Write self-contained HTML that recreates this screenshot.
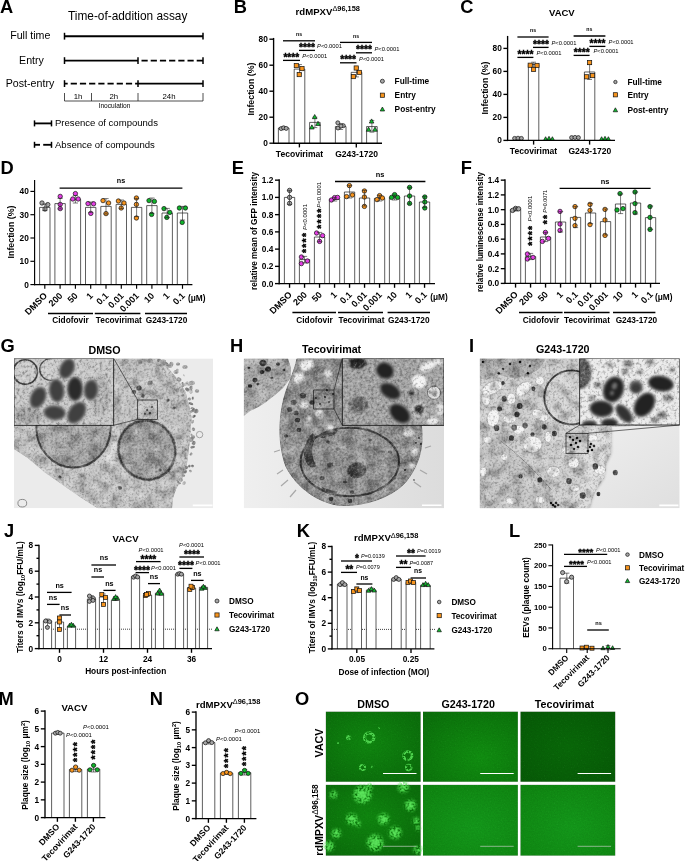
<!DOCTYPE html>
<html><head><meta charset="utf-8"><title>Figure</title>
<style>html,body{margin:0;padding:0;background:#fff}svg{display:block}text{font-family:"Liberation Sans",sans-serif}</style>
</head><body>
<svg width="685" height="861" viewBox="0 0 685 861">
<text transform="translate(0.1 12.85) scale(1 1)" font-size="18.3" font-weight="bold">A</text>
<text x="68" y="20" font-size="11.85">Time-of-addition assay</text>
<text x="30.3" y="39.2" font-size="10.65" text-anchor="middle">Full time</text>
<text x="31.5" y="64" font-size="10.65" text-anchor="middle">Entry</text>
<text x="30" y="87.2" font-size="10.65" text-anchor="middle">Post-entry</text>
<line x1="64.5" y1="36.2" x2="203" y2="36.2" stroke="#000" stroke-width="1.85"/>
<line x1="64.5" y1="32.8" x2="64.5" y2="39.6" stroke="#000" stroke-width="1.5"/>
<line x1="203" y1="32.8" x2="203" y2="39.6" stroke="#000" stroke-width="1.5"/>
<line x1="64.5" y1="60.6" x2="138" y2="60.6" stroke="#000" stroke-width="1.85"/>
<line x1="141.5" y1="60.6" x2="203" y2="60.6" stroke="#000" stroke-width="1.85" stroke-dasharray="6.2 3"/>
<line x1="64.5" y1="57.2" x2="64.5" y2="64" stroke="#000" stroke-width="1.5"/>
<line x1="138" y1="57.2" x2="138" y2="64" stroke="#000" stroke-width="1.5"/>
<line x1="203" y1="57.2" x2="203" y2="64" stroke="#000" stroke-width="1.5"/>
<line x1="64.5" y1="83.6" x2="138" y2="83.6" stroke="#000" stroke-width="1.85" stroke-dasharray="3.2 3 6.2 3 6.2 3 6.2 3 6.2 3 6.2 3 6.2 3 6.2 3 6.2 3"/>
<line x1="138" y1="83.6" x2="203" y2="83.6" stroke="#000" stroke-width="1.85"/>
<line x1="64.5" y1="80.2" x2="64.5" y2="87" stroke="#000" stroke-width="1.5"/>
<line x1="138" y1="80.2" x2="138" y2="87" stroke="#000" stroke-width="1.5"/>
<line x1="203" y1="80.2" x2="203" y2="87" stroke="#000" stroke-width="1.5"/>
<path d="M64.5 93V101H203V93M91.5 93V101M138 93V101" fill="none" stroke="#222" stroke-width="0.8"/>
<text x="78" y="98.7" font-size="7.8" text-anchor="middle">1h</text>
<text x="113.8" y="98.7" font-size="7.8" text-anchor="middle">2h</text>
<text x="169" y="98.7" font-size="7.8" text-anchor="middle">24h</text>
<text x="114.5" y="107.7" font-size="6.6" text-anchor="middle">Inoculation</text>
<line x1="34.5" y1="123.4" x2="51.5" y2="123.4" stroke="#000" stroke-width="1.85"/>
<line x1="34.5" y1="120.4" x2="34.5" y2="126.4" stroke="#000" stroke-width="1.5"/>
<line x1="51.5" y1="120.4" x2="51.5" y2="126.4" stroke="#000" stroke-width="1.5"/>
<text x="55" y="126.3" font-size="9.55">Presence of compounds</text>
<line x1="34.5" y1="144.8" x2="40" y2="144.8" stroke="#000" stroke-width="1.85"/>
<line x1="43.2" y1="144.8" x2="51.5" y2="144.8" stroke="#000" stroke-width="1.85"/>
<line x1="34.5" y1="141.8" x2="34.5" y2="147.8" stroke="#000" stroke-width="1.5"/>
<line x1="51.5" y1="141.8" x2="51.5" y2="147.8" stroke="#000" stroke-width="1.5"/>
<text x="55" y="147.6" font-size="9.55">Absence of compounds</text>
<text transform="translate(233.7 12.75) scale(1 1)" font-size="18.3" font-weight="bold">B</text>
<text x="295.6" y="15.2" font-size="9.6" font-weight="bold">rdMPXV<tspan font-size="7.4" dy="-3.9"><tspan font-weight="normal">Δ</tspan>96,158</tspan></text>
<path d="M278.4 143.2V127.99H289V143.2" fill="#fff" stroke="#1a1a1a" stroke-width="0.7"/>
<path d="M294.2 143.2V69.1H304.8V143.2" fill="#fff" stroke="#1a1a1a" stroke-width="0.7"/>
<path d="M309.6 143.2V122.4H320.2V143.2" fill="#fff" stroke="#1a1a1a" stroke-width="0.7"/>
<path d="M335.4 143.2V126.56H346V143.2" fill="#fff" stroke="#1a1a1a" stroke-width="0.7"/>
<path d="M351.2 143.2V72.35H361.8V143.2" fill="#fff" stroke="#1a1a1a" stroke-width="0.7"/>
<path d="M366.6 143.2V126.56H377.2V143.2" fill="#fff" stroke="#1a1a1a" stroke-width="0.7"/>
<path d="M283.7 126.82V129.16M281.7 126.82H285.7M281.7 129.16H285.7" fill="none" stroke="#222" stroke-width="0.6"/>
<path d="M299.5 64.55V73.65M297.1 64.55H301.9M297.1 73.65H301.9" fill="none" stroke="#222" stroke-width="0.6"/>
<path d="M314.9 117.2V127.6M312.5 117.2H317.3M312.5 127.6H317.3" fill="none" stroke="#222" stroke-width="0.6"/>
<path d="M340.7 123.7V129.42M338.3 123.7H343.1M338.3 129.42H343.1" fill="none" stroke="#222" stroke-width="0.6"/>
<path d="M356.5 67.8V76.9M354.1 67.8H358.9M354.1 76.9H358.9" fill="none" stroke="#222" stroke-width="0.6"/>
<path d="M371.9 120.45V132.15M369.5 120.45H374.3M369.5 132.15H374.3" fill="none" stroke="#222" stroke-width="0.6"/>
<circle cx="281.2" cy="128.6" r="2" fill="#a6a6a6" stroke="#111" stroke-width="0.7"/>
<circle cx="283.6" cy="127.8" r="2" fill="#a6a6a6" stroke="#111" stroke-width="0.7"/>
<circle cx="286.2" cy="128.4" r="2" fill="#a6a6a6" stroke="#111" stroke-width="0.7"/>
<rect x="294.2" y="63.5" width="4.2" height="4.2" fill="#f7941d" stroke="#111" stroke-width="0.7"/>
<rect x="299.9" y="66.5" width="4.2" height="4.2" fill="#f7941d" stroke="#111" stroke-width="0.7"/>
<rect x="297.1" y="72.5" width="4.2" height="4.2" fill="#f7941d" stroke="#111" stroke-width="0.7"/>
<polygon points="314.7,114.52 312.4,118.66 317,118.66" fill="#10c030" stroke="#111" stroke-width="0.7"/>
<polygon points="311.9,124.82 309.6,128.96 314.2,128.96" fill="#10c030" stroke="#111" stroke-width="0.7"/>
<polygon points="318,121.32 315.7,125.46 320.3,125.46" fill="#10c030" stroke="#111" stroke-width="0.7"/>
<circle cx="337.8" cy="122.8" r="2" fill="#a6a6a6" stroke="#111" stroke-width="0.7"/>
<circle cx="343.3" cy="125.7" r="2" fill="#a6a6a6" stroke="#111" stroke-width="0.7"/>
<circle cx="338" cy="128" r="2" fill="#a6a6a6" stroke="#111" stroke-width="0.7"/>
<circle cx="341" cy="126" r="2" fill="#a6a6a6" stroke="#111" stroke-width="0.7"/>
<rect x="354.1" y="65.9" width="4.2" height="4.2" fill="#f7941d" stroke="#111" stroke-width="0.7"/>
<rect x="357.3" y="70.3" width="4.2" height="4.2" fill="#f7941d" stroke="#111" stroke-width="0.7"/>
<rect x="351.3" y="74.5" width="4.2" height="4.2" fill="#f7941d" stroke="#111" stroke-width="0.7"/>
<polygon points="371.6,118.92 369.3,123.06 373.9,123.06" fill="#10c030" stroke="#111" stroke-width="0.7"/>
<polygon points="368.6,127.12 366.3,131.26 370.9,131.26" fill="#10c030" stroke="#111" stroke-width="0.7"/>
<polygon points="375,127.12 372.7,131.26 377.3,131.26" fill="#10c030" stroke="#111" stroke-width="0.7"/>
<line x1="273.6" y1="37.93" x2="273.6" y2="143.88" stroke="#000" stroke-width="1.35"/>
<line x1="269.4" y1="143.2" x2="273.6" y2="143.2" stroke="#000" stroke-width="1.35"/>
<text x="267.8" y="146.19" font-size="8.3" text-anchor="end" font-weight="bold">0</text>
<line x1="269.4" y1="117.2" x2="273.6" y2="117.2" stroke="#000" stroke-width="1.35"/>
<text x="267.8" y="120.19" font-size="8.3" text-anchor="end" font-weight="bold">20</text>
<line x1="269.4" y1="91.2" x2="273.6" y2="91.2" stroke="#000" stroke-width="1.35"/>
<text x="267.8" y="94.19" font-size="8.3" text-anchor="end" font-weight="bold">40</text>
<line x1="269.4" y1="65.2" x2="273.6" y2="65.2" stroke="#000" stroke-width="1.35"/>
<text x="267.8" y="68.19" font-size="8.3" text-anchor="end" font-weight="bold">60</text>
<line x1="269.4" y1="39.2" x2="273.6" y2="39.2" stroke="#000" stroke-width="1.35"/>
<text x="267.8" y="42.19" font-size="8.3" text-anchor="end" font-weight="bold">80</text>
<line x1="273.1" y1="143.2" x2="382" y2="143.2" stroke="#000" stroke-width="1.35"/>
<line x1="299.4" y1="143.2" x2="299.4" y2="147.4" stroke="#000" stroke-width="1.35"/>
<line x1="356.3" y1="143.2" x2="356.3" y2="147.4" stroke="#000" stroke-width="1.35"/>
<text x="253.9" y="89" font-size="8.8" text-anchor="middle" transform="rotate(-90 253.9 89)" font-weight="bold">Infection (%)</text>
<text x="299.5" y="156.6" font-size="8.55" text-anchor="middle" font-weight="bold">Tecovirimat</text>
<text x="356.6" y="156.6" font-size="8.55" text-anchor="middle" font-weight="bold">G243-1720</text>
<text x="299" y="36.2" font-size="5.2" text-anchor="middle" font-weight="bold">ns</text>
<line x1="283" y1="40.8" x2="315" y2="40.8" stroke="#000" stroke-width="1.3"/>
<text x="299" y="51" font-size="10.2" font-weight="bold" stroke="#000" stroke-width="0.4">****</text>
<line x1="299" y1="50.4" x2="315" y2="50.4" stroke="#000" stroke-width="1.3"/>
<text x="317" y="48.2" font-size="5.8"><tspan font-style="italic">P</tspan>&lt;0.0001</text>
<text x="283.4" y="61" font-size="10.2" font-weight="bold" stroke="#000" stroke-width="0.4">****</text>
<line x1="283" y1="60.4" x2="300" y2="60.4" stroke="#000" stroke-width="1.3"/>
<text x="302.2" y="58.2" font-size="5.8"><tspan font-style="italic">P</tspan>&lt;0.0001</text>
<text x="356" y="37.8" font-size="5.2" text-anchor="middle" font-weight="bold">ns</text>
<line x1="340" y1="42.4" x2="372" y2="42.4" stroke="#000" stroke-width="1.3"/>
<text x="356" y="53.4" font-size="10.2" font-weight="bold" stroke="#000" stroke-width="0.4">****</text>
<line x1="356" y1="52.8" x2="372" y2="52.8" stroke="#000" stroke-width="1.3"/>
<text x="374.4" y="50.6" font-size="5.8"><tspan font-style="italic">P</tspan>&lt;0.0001</text>
<text x="340.2" y="63.4" font-size="10.2" font-weight="bold" stroke="#000" stroke-width="0.4">****</text>
<line x1="340" y1="62.8" x2="356.5" y2="62.8" stroke="#000" stroke-width="1.3"/>
<text x="359" y="60.6" font-size="5.8"><tspan font-style="italic">P</tspan>&lt;0.0001</text>
<circle cx="382.4" cy="81.2" r="2" fill="#a6a6a6" stroke="#111" stroke-width="0.7"/>
<text x="394.6" y="84.2" font-size="8.3" font-weight="bold">Full-time</text>
<rect x="380.3" y="93.1" width="4.2" height="4.2" fill="#f7941d" stroke="#111" stroke-width="0.7"/>
<text x="394.6" y="98.2" font-size="8.3" font-weight="bold">Entry</text>
<polygon points="382.4,107.02 380.2,110.98 384.6,110.98" fill="#10c030" stroke="#111" stroke-width="0.7"/>
<text x="394.6" y="112.2" font-size="8.3" font-weight="bold">Post-entry</text>
<text transform="translate(460.3 12.8) scale(1 1)" font-size="18.3" font-weight="bold">C</text>
<text x="549" y="16.4" font-size="9.5" font-weight="bold">VACV</text>
<path d="M528.4 140.4V64.5H538.8V140.4" fill="#fff" stroke="#1a1a1a" stroke-width="0.7"/>
<path d="M584.4 140.4V71.98H594.8V140.4" fill="#fff" stroke="#1a1a1a" stroke-width="0.7"/>
<path d="M533.6 62.2V67.38M531.2 62.2H536M531.2 67.38H536" fill="none" stroke="#222" stroke-width="0.6"/>
<path d="M589.6 64.5V79.45M587.2 64.5H592M587.2 79.45H592" fill="none" stroke="#222" stroke-width="0.6"/>
<circle cx="514.6" cy="138.4" r="2" fill="#a6a6a6" stroke="#111" stroke-width="0.7"/>
<circle cx="518" cy="138.2" r="2" fill="#a6a6a6" stroke="#111" stroke-width="0.7"/>
<circle cx="521.4" cy="138.4" r="2" fill="#a6a6a6" stroke="#111" stroke-width="0.7"/>
<rect x="528.1" y="63.1" width="4.2" height="4.2" fill="#f7941d" stroke="#111" stroke-width="0.7"/>
<rect x="534.9" y="63.3" width="4.2" height="4.2" fill="#f7941d" stroke="#111" stroke-width="0.7"/>
<rect x="531.5" y="67.3" width="4.2" height="4.2" fill="#f7941d" stroke="#111" stroke-width="0.7"/>
<polygon points="545.6,136.73 543.5,140.51 547.7,140.51" fill="#10c030" stroke="#111" stroke-width="0.7"/>
<polygon points="549,136.33 546.9,140.11 551.1,140.11" fill="#10c030" stroke="#111" stroke-width="0.7"/>
<polygon points="552.4,136.73 550.3,140.51 554.5,140.51" fill="#10c030" stroke="#111" stroke-width="0.7"/>
<circle cx="571.6" cy="137.6" r="2" fill="#a6a6a6" stroke="#111" stroke-width="0.7"/>
<circle cx="575" cy="137.4" r="2" fill="#a6a6a6" stroke="#111" stroke-width="0.7"/>
<circle cx="578.4" cy="137.6" r="2" fill="#a6a6a6" stroke="#111" stroke-width="0.7"/>
<rect x="587.5" y="60.5" width="4.2" height="4.2" fill="#f7941d" stroke="#111" stroke-width="0.7"/>
<rect x="584.5" y="74.7" width="4.2" height="4.2" fill="#f7941d" stroke="#111" stroke-width="0.7"/>
<rect x="590.5" y="73.5" width="4.2" height="4.2" fill="#f7941d" stroke="#111" stroke-width="0.7"/>
<polygon points="601.6,136.73 599.5,140.51 603.7,140.51" fill="#10c030" stroke="#111" stroke-width="0.7"/>
<polygon points="605,136.33 602.9,140.11 607.1,140.11" fill="#10c030" stroke="#111" stroke-width="0.7"/>
<polygon points="608.4,136.73 606.3,140.51 610.5,140.51" fill="#10c030" stroke="#111" stroke-width="0.7"/>
<line x1="507.6" y1="35.93" x2="507.6" y2="141.08" stroke="#000" stroke-width="1.35"/>
<line x1="503.4" y1="140.4" x2="507.6" y2="140.4" stroke="#000" stroke-width="1.35"/>
<text x="501.8" y="143.39" font-size="8.3" text-anchor="end" font-weight="bold">0</text>
<line x1="503.4" y1="117.4" x2="507.6" y2="117.4" stroke="#000" stroke-width="1.35"/>
<text x="501.8" y="120.39" font-size="8.3" text-anchor="end" font-weight="bold">20</text>
<line x1="503.4" y1="94.4" x2="507.6" y2="94.4" stroke="#000" stroke-width="1.35"/>
<text x="501.8" y="97.39" font-size="8.3" text-anchor="end" font-weight="bold">40</text>
<line x1="503.4" y1="71.4" x2="507.6" y2="71.4" stroke="#000" stroke-width="1.35"/>
<text x="501.8" y="74.39" font-size="8.3" text-anchor="end" font-weight="bold">60</text>
<line x1="503.4" y1="48.4" x2="507.6" y2="48.4" stroke="#000" stroke-width="1.35"/>
<text x="501.8" y="51.39" font-size="8.3" text-anchor="end" font-weight="bold">80</text>
<line x1="507.1" y1="140.4" x2="615" y2="140.4" stroke="#000" stroke-width="1.35"/>
<line x1="533.6" y1="140.4" x2="533.6" y2="144.6" stroke="#000" stroke-width="1.35"/>
<line x1="589.6" y1="140.4" x2="589.6" y2="144.6" stroke="#000" stroke-width="1.35"/>
<text x="487.8" y="88" font-size="8.8" text-anchor="middle" transform="rotate(-90 487.8 88)" font-weight="bold">Infection (%)</text>
<text x="533.5" y="154" font-size="8.55" text-anchor="middle" font-weight="bold">Tecovirimat</text>
<text x="589.8" y="154" font-size="8.55" text-anchor="middle" font-weight="bold">G243-1720</text>
<text x="533" y="32" font-size="5.2" text-anchor="middle" font-weight="bold">ns</text>
<line x1="517.4" y1="37" x2="548.6" y2="37" stroke="#000" stroke-width="1.3"/>
<text x="533" y="48" font-size="10.2" font-weight="bold" stroke="#000" stroke-width="0.4">****</text>
<line x1="533" y1="47.4" x2="548.6" y2="47.4" stroke="#000" stroke-width="1.3"/>
<text x="551.4" y="45.2" font-size="5.8"><tspan font-style="italic">P</tspan>&lt;0.0001</text>
<text x="517.6" y="58" font-size="10.2" font-weight="bold" stroke="#000" stroke-width="0.4">****</text>
<line x1="517.4" y1="57.4" x2="533.4" y2="57.4" stroke="#000" stroke-width="1.3"/>
<text x="536.4" y="55.2" font-size="5.8"><tspan font-style="italic">P</tspan>&lt;0.0001</text>
<text x="589.4" y="31" font-size="5.2" text-anchor="middle" font-weight="bold">ns</text>
<line x1="573.6" y1="36" x2="605.4" y2="36" stroke="#000" stroke-width="1.3"/>
<text x="589.6" y="47" font-size="10.2" font-weight="bold" stroke="#000" stroke-width="0.4">****</text>
<line x1="589.4" y1="46.4" x2="605.4" y2="46.4" stroke="#000" stroke-width="1.3"/>
<text x="608.6" y="44.2" font-size="5.8"><tspan font-style="italic">P</tspan>&lt;0.0001</text>
<text x="573.8" y="56" font-size="10.2" font-weight="bold" stroke="#000" stroke-width="0.4">****</text>
<line x1="573.6" y1="55.4" x2="589.6" y2="55.4" stroke="#000" stroke-width="1.3"/>
<text x="593.4" y="53.2" font-size="5.8"><tspan font-style="italic">P</tspan>&lt;0.0001</text>
<circle cx="615.4" cy="82" r="1.7" fill="#a6a6a6" stroke="#111" stroke-width="0.7"/>
<text x="627.4" y="85" font-size="8.3" font-weight="bold">Full-time</text>
<rect x="613.3" y="92.7" width="4.2" height="4.2" fill="#f7941d" stroke="#111" stroke-width="0.7"/>
<text x="627.4" y="97.8" font-size="8.3" font-weight="bold">Entry</text>
<polygon points="615.4,107.82 613.2,111.78 617.6,111.78" fill="#10c030" stroke="#111" stroke-width="0.7"/>
<text x="627.4" y="113" font-size="8.3" font-weight="bold">Post-entry</text>
<text transform="translate(0.55 173.8) scale(1 1)" font-size="18.3" font-weight="bold">D</text>
<path d="M39.6 284.6V207.4H50V284.6" fill="#fff" stroke="#1a1a1a" stroke-width="0.7"/>
<circle cx="42" cy="203" r="2.2" fill="#a6a6a6" stroke="#111" stroke-width="0.7"/>
<circle cx="47.8" cy="204.6" r="2.2" fill="#a6a6a6" stroke="#111" stroke-width="0.7"/>
<circle cx="45" cy="209" r="2.2" fill="#a6a6a6" stroke="#111" stroke-width="0.7"/>
<path d="M44.8 204V210.6M42.2 204H47.4M42.2 210.6H47.4" fill="none" stroke="#222" stroke-width="0.6"/>
<path d="M54.9 284.6V203.6H65.3V284.6" fill="#fff" stroke="#1a1a1a" stroke-width="0.7"/>
<circle cx="60.2" cy="196.4" r="2.2" fill="#e43ee4" stroke="#111" stroke-width="0.7"/>
<circle cx="60.2" cy="204.4" r="2.2" fill="#e43ee4" stroke="#111" stroke-width="0.7"/>
<circle cx="60.2" cy="208.6" r="2.2" fill="#e43ee4" stroke="#111" stroke-width="0.7"/>
<path d="M60.1 198.4V209M57.5 198.4H62.7M57.5 209H62.7" fill="none" stroke="#222" stroke-width="0.6"/>
<path d="M70.2 284.6V199.4H80.6V284.6" fill="#fff" stroke="#1a1a1a" stroke-width="0.7"/>
<circle cx="75.4" cy="193.6" r="2.2" fill="#e43ee4" stroke="#111" stroke-width="0.7"/>
<circle cx="72.8" cy="199" r="2.2" fill="#e43ee4" stroke="#111" stroke-width="0.7"/>
<circle cx="78.2" cy="199" r="2.2" fill="#e43ee4" stroke="#111" stroke-width="0.7"/>
<path d="M75.4 195.6V203M72.8 195.6H78M72.8 203H78" fill="none" stroke="#222" stroke-width="0.6"/>
<path d="M85.5 284.6V207.4H95.9V284.6" fill="#fff" stroke="#1a1a1a" stroke-width="0.7"/>
<circle cx="88" cy="203.6" r="2.2" fill="#e43ee4" stroke="#111" stroke-width="0.7"/>
<circle cx="93.6" cy="203.8" r="2.2" fill="#e43ee4" stroke="#111" stroke-width="0.7"/>
<circle cx="90.8" cy="213.4" r="2.2" fill="#e43ee4" stroke="#111" stroke-width="0.7"/>
<path d="M90.7 202V212.6M88.1 202H93.3M88.1 212.6H93.3" fill="none" stroke="#222" stroke-width="0.6"/>
<path d="M100.8 284.6V206.4H111.2V284.6" fill="#fff" stroke="#1a1a1a" stroke-width="0.7"/>
<circle cx="103" cy="200.6" r="2.2" fill="#f7941d" stroke="#111" stroke-width="0.7"/>
<circle cx="108.6" cy="203" r="2.2" fill="#f7941d" stroke="#111" stroke-width="0.7"/>
<circle cx="106" cy="213.6" r="2.2" fill="#f7941d" stroke="#111" stroke-width="0.7"/>
<path d="M106 198.6V214M103.4 198.6H108.6M103.4 214H108.6" fill="none" stroke="#222" stroke-width="0.6"/>
<path d="M116.1 284.6V204.4H126.5V284.6" fill="#fff" stroke="#1a1a1a" stroke-width="0.7"/>
<circle cx="118.4" cy="201" r="2.2" fill="#f7941d" stroke="#111" stroke-width="0.7"/>
<circle cx="124" cy="203" r="2.2" fill="#f7941d" stroke="#111" stroke-width="0.7"/>
<circle cx="121.2" cy="208" r="2.2" fill="#f7941d" stroke="#111" stroke-width="0.7"/>
<path d="M121.3 200V208.6M118.7 200H123.9M118.7 208.6H123.9" fill="none" stroke="#222" stroke-width="0.6"/>
<path d="M131.4 284.6V207.4H141.8V284.6" fill="#fff" stroke="#1a1a1a" stroke-width="0.7"/>
<circle cx="136.4" cy="198" r="2.2" fill="#f7941d" stroke="#111" stroke-width="0.7"/>
<circle cx="136.4" cy="204.4" r="2.2" fill="#f7941d" stroke="#111" stroke-width="0.7"/>
<circle cx="136.4" cy="218" r="2.2" fill="#f7941d" stroke="#111" stroke-width="0.7"/>
<path d="M136.6 198.4V216.6M134 198.4H139.2M134 216.6H139.2" fill="none" stroke="#222" stroke-width="0.6"/>
<path d="M146.7 284.6V205.6H157.1V284.6" fill="#fff" stroke="#1a1a1a" stroke-width="0.7"/>
<circle cx="149" cy="200.6" r="2.2" fill="#0fb32a" stroke="#111" stroke-width="0.7"/>
<circle cx="154.4" cy="201.4" r="2.2" fill="#0fb32a" stroke="#111" stroke-width="0.7"/>
<circle cx="151.6" cy="214.4" r="2.2" fill="#0fb32a" stroke="#111" stroke-width="0.7"/>
<path d="M151.9 198V213.4M149.3 198H154.5M149.3 213.4H154.5" fill="none" stroke="#222" stroke-width="0.6"/>
<path d="M162 284.6V213H172.4V284.6" fill="#fff" stroke="#1a1a1a" stroke-width="0.7"/>
<circle cx="164" cy="208.6" r="2.2" fill="#0fb32a" stroke="#111" stroke-width="0.7"/>
<circle cx="169.8" cy="212.4" r="2.2" fill="#0fb32a" stroke="#111" stroke-width="0.7"/>
<circle cx="166.8" cy="217.4" r="2.2" fill="#0fb32a" stroke="#111" stroke-width="0.7"/>
<path d="M167.2 208.4V217.6M164.6 208.4H169.8M164.6 217.6H169.8" fill="none" stroke="#222" stroke-width="0.6"/>
<path d="M177.3 284.6V213H187.7V284.6" fill="#fff" stroke="#1a1a1a" stroke-width="0.7"/>
<circle cx="179.4" cy="208" r="2.2" fill="#0fb32a" stroke="#111" stroke-width="0.7"/>
<circle cx="185.4" cy="208" r="2.2" fill="#0fb32a" stroke="#111" stroke-width="0.7"/>
<circle cx="182.2" cy="222.4" r="2.2" fill="#0fb32a" stroke="#111" stroke-width="0.7"/>
<path d="M182.5 206.4V220M179.9 206.4H185.1M179.9 220H185.1" fill="none" stroke="#222" stroke-width="0.6"/>
<line x1="34.6" y1="180.03" x2="34.6" y2="285.18" stroke="#000" stroke-width="1.15"/>
<line x1="30.4" y1="284.6" x2="34.6" y2="284.6" stroke="#000" stroke-width="1.15"/>
<text x="28.8" y="287.59" font-size="8.3" text-anchor="end" font-weight="bold">0</text>
<line x1="30.4" y1="261.3" x2="34.6" y2="261.3" stroke="#000" stroke-width="1.15"/>
<text x="28.8" y="264.29" font-size="8.3" text-anchor="end" font-weight="bold">10</text>
<line x1="30.4" y1="238" x2="34.6" y2="238" stroke="#000" stroke-width="1.15"/>
<text x="28.8" y="240.99" font-size="8.3" text-anchor="end" font-weight="bold">20</text>
<line x1="30.4" y1="214.7" x2="34.6" y2="214.7" stroke="#000" stroke-width="1.15"/>
<text x="28.8" y="217.69" font-size="8.3" text-anchor="end" font-weight="bold">30</text>
<line x1="30.4" y1="191.4" x2="34.6" y2="191.4" stroke="#000" stroke-width="1.15"/>
<text x="28.8" y="194.39" font-size="8.3" text-anchor="end" font-weight="bold">40</text>
<line x1="34.1" y1="284.6" x2="192.4" y2="284.6" stroke="#000" stroke-width="1.15"/>
<line x1="44.8" y1="284.6" x2="44.8" y2="288.8" stroke="#000" stroke-width="1.15"/>
<line x1="60.1" y1="284.6" x2="60.1" y2="288.8" stroke="#000" stroke-width="1.15"/>
<line x1="75.4" y1="284.6" x2="75.4" y2="288.8" stroke="#000" stroke-width="1.15"/>
<line x1="90.7" y1="284.6" x2="90.7" y2="288.8" stroke="#000" stroke-width="1.15"/>
<line x1="106" y1="284.6" x2="106" y2="288.8" stroke="#000" stroke-width="1.15"/>
<line x1="121.3" y1="284.6" x2="121.3" y2="288.8" stroke="#000" stroke-width="1.15"/>
<line x1="136.6" y1="284.6" x2="136.6" y2="288.8" stroke="#000" stroke-width="1.15"/>
<line x1="151.9" y1="284.6" x2="151.9" y2="288.8" stroke="#000" stroke-width="1.15"/>
<line x1="167.2" y1="284.6" x2="167.2" y2="288.8" stroke="#000" stroke-width="1.15"/>
<line x1="182.5" y1="284.6" x2="182.5" y2="288.8" stroke="#000" stroke-width="1.15"/>
<text x="14" y="232" font-size="8.8" text-anchor="middle" transform="rotate(-90 14 232)" font-weight="bold">Infection (%)</text>
<line x1="59.6" y1="188.2" x2="182.4" y2="188.2" stroke="#000" stroke-width="1.3"/>
<text x="121" y="183.4" font-size="7.2" text-anchor="middle" font-weight="bold">ns</text>
<text x="47.8" y="296.3" font-size="9.1" text-anchor="end" transform="rotate(-45 47.8 296.3)" font-weight="bold">DMSO</text>
<text x="63.1" y="296.3" font-size="9.1" text-anchor="end" transform="rotate(-45 63.1 296.3)" font-weight="bold">200</text>
<text x="78.4" y="296.3" font-size="9.1" text-anchor="end" transform="rotate(-45 78.4 296.3)" font-weight="bold">50</text>
<text x="93.7" y="296.3" font-size="9.1" text-anchor="end" transform="rotate(-45 93.7 296.3)" font-weight="bold">1</text>
<text x="109" y="296.3" font-size="9.1" text-anchor="end" transform="rotate(-45 109 296.3)" font-weight="bold">0.1</text>
<text x="124.3" y="296.3" font-size="9.1" text-anchor="end" transform="rotate(-45 124.3 296.3)" font-weight="bold">0.01</text>
<text x="139.6" y="296.3" font-size="9.1" text-anchor="end" transform="rotate(-45 139.6 296.3)" font-weight="bold">0.001</text>
<text x="154.9" y="296.3" font-size="9.1" text-anchor="end" transform="rotate(-45 154.9 296.3)" font-weight="bold">10</text>
<text x="170.2" y="296.3" font-size="9.1" text-anchor="end" transform="rotate(-45 170.2 296.3)" font-weight="bold">1</text>
<text x="185.5" y="296.3" font-size="9.1" text-anchor="end" transform="rotate(-45 185.5 296.3)" font-weight="bold">0.1</text>
<text x="188" y="301.4" font-size="8.3" font-weight="bold">(μM)</text>
<line x1="48" y1="313.4" x2="93" y2="313.4" stroke="#000" stroke-width="1.5"/>
<text x="70.5" y="323.4" font-size="8.3" text-anchor="middle" font-weight="bold">Cidofovir</text>
<line x1="94.8" y1="313.4" x2="140.4" y2="313.4" stroke="#000" stroke-width="1.5"/>
<text x="118.8" y="323.4" font-size="8.3" text-anchor="middle" font-weight="bold">Tecovirimat</text>
<line x1="145" y1="313.4" x2="187" y2="313.4" stroke="#000" stroke-width="1.5"/>
<text x="166.5" y="323.4" font-size="8.3" text-anchor="middle" font-weight="bold">G243-1720</text>
<text transform="translate(231.8 173.8) scale(1 1)" font-size="18.3" font-weight="bold">E</text>
<path d="M284.4 283.6V197.4H294.7V283.6" fill="#fff" stroke="#1a1a1a" stroke-width="0.7"/>
<circle cx="289.6" cy="190.4" r="2.2" fill="#a6a6a6" stroke="#111" stroke-width="0.7"/>
<circle cx="289.6" cy="197.4" r="2.2" fill="#a6a6a6" stroke="#111" stroke-width="0.7"/>
<circle cx="289.6" cy="203.4" r="2.2" fill="#a6a6a6" stroke="#111" stroke-width="0.7"/>
<path d="M289.55 190.4V204.4M286.95 190.4H292.15M286.95 204.4H292.15" fill="none" stroke="#222" stroke-width="0.6"/>
<path d="M299.4 283.6V259.6H309.7V283.6" fill="#fff" stroke="#1a1a1a" stroke-width="0.7"/>
<circle cx="301.4" cy="257" r="2.2" fill="#e43ee4" stroke="#111" stroke-width="0.7"/>
<circle cx="307.4" cy="261" r="2.2" fill="#e43ee4" stroke="#111" stroke-width="0.7"/>
<circle cx="301.4" cy="263.6" r="2.2" fill="#e43ee4" stroke="#111" stroke-width="0.7"/>
<path d="M304.55 256.4V263M301.95 256.4H307.15M301.95 263H307.15" fill="none" stroke="#222" stroke-width="0.6"/>
<path d="M314.4 283.6V237H324.7V283.6" fill="#fff" stroke="#1a1a1a" stroke-width="0.7"/>
<circle cx="316.6" cy="233" r="2.2" fill="#e43ee4" stroke="#111" stroke-width="0.7"/>
<circle cx="322.6" cy="235.6" r="2.2" fill="#e43ee4" stroke="#111" stroke-width="0.7"/>
<circle cx="319.6" cy="241.4" r="2.2" fill="#e43ee4" stroke="#111" stroke-width="0.7"/>
<path d="M319.55 232.4V241.6M316.95 232.4H322.15M316.95 241.6H322.15" fill="none" stroke="#222" stroke-width="0.6"/>
<path d="M329.4 283.6V199.4H339.7V283.6" fill="#fff" stroke="#1a1a1a" stroke-width="0.7"/>
<circle cx="331.4" cy="200" r="2.2" fill="#e43ee4" stroke="#111" stroke-width="0.7"/>
<circle cx="334.6" cy="197.6" r="2.2" fill="#e43ee4" stroke="#111" stroke-width="0.7"/>
<circle cx="337.6" cy="197.4" r="2.2" fill="#e43ee4" stroke="#111" stroke-width="0.7"/>
<path d="M334.55 197.6V201M331.95 197.6H337.15M331.95 201H337.15" fill="none" stroke="#222" stroke-width="0.6"/>
<path d="M344.4 283.6V192H354.7V283.6" fill="#fff" stroke="#1a1a1a" stroke-width="0.7"/>
<circle cx="349.4" cy="185.6" r="2.2" fill="#f7941d" stroke="#111" stroke-width="0.7"/>
<circle cx="346.6" cy="196.6" r="2.2" fill="#f7941d" stroke="#111" stroke-width="0.7"/>
<circle cx="352.4" cy="195" r="2.2" fill="#f7941d" stroke="#111" stroke-width="0.7"/>
<path d="M349.55 185.6V198M346.95 185.6H352.15M346.95 198H352.15" fill="none" stroke="#222" stroke-width="0.6"/>
<path d="M359.4 283.6V198H369.7V283.6" fill="#fff" stroke="#1a1a1a" stroke-width="0.7"/>
<circle cx="364.4" cy="191" r="2.2" fill="#f7941d" stroke="#111" stroke-width="0.7"/>
<circle cx="364.4" cy="197" r="2.2" fill="#f7941d" stroke="#111" stroke-width="0.7"/>
<circle cx="364.4" cy="206.4" r="2.2" fill="#f7941d" stroke="#111" stroke-width="0.7"/>
<path d="M364.55 190.4V206M361.95 190.4H367.15M361.95 206H367.15" fill="none" stroke="#222" stroke-width="0.6"/>
<path d="M374.4 283.6V198.4H384.7V283.6" fill="#fff" stroke="#1a1a1a" stroke-width="0.7"/>
<circle cx="379.6" cy="195.6" r="2.2" fill="#f7941d" stroke="#111" stroke-width="0.7"/>
<circle cx="377" cy="199.6" r="2.2" fill="#f7941d" stroke="#111" stroke-width="0.7"/>
<circle cx="382.4" cy="198" r="2.2" fill="#f7941d" stroke="#111" stroke-width="0.7"/>
<path d="M379.55 195.4V201M376.95 195.4H382.15M376.95 201H382.15" fill="none" stroke="#222" stroke-width="0.6"/>
<path d="M389.4 283.6V197.6H399.7V283.6" fill="#fff" stroke="#1a1a1a" stroke-width="0.7"/>
<circle cx="394.6" cy="194.6" r="2.2" fill="#0fb32a" stroke="#111" stroke-width="0.7"/>
<circle cx="391.6" cy="197.4" r="2.2" fill="#0fb32a" stroke="#111" stroke-width="0.7"/>
<circle cx="397.6" cy="197.4" r="2.2" fill="#0fb32a" stroke="#111" stroke-width="0.7"/>
<path d="M394.55 195V200M391.95 195H397.15M391.95 200H397.15" fill="none" stroke="#222" stroke-width="0.6"/>
<path d="M404.4 283.6V196H414.7V283.6" fill="#fff" stroke="#1a1a1a" stroke-width="0.7"/>
<circle cx="409.6" cy="187.4" r="2.2" fill="#0fb32a" stroke="#111" stroke-width="0.7"/>
<circle cx="409.6" cy="196" r="2.2" fill="#0fb32a" stroke="#111" stroke-width="0.7"/>
<circle cx="409.6" cy="203.4" r="2.2" fill="#0fb32a" stroke="#111" stroke-width="0.7"/>
<path d="M409.55 187.4V204M406.95 187.4H412.15M406.95 204H412.15" fill="none" stroke="#222" stroke-width="0.6"/>
<path d="M419.4 283.6V202H429.7V283.6" fill="#fff" stroke="#1a1a1a" stroke-width="0.7"/>
<circle cx="424.8" cy="197" r="2.2" fill="#0fb32a" stroke="#111" stroke-width="0.7"/>
<circle cx="424.8" cy="202" r="2.2" fill="#0fb32a" stroke="#111" stroke-width="0.7"/>
<circle cx="424.8" cy="208" r="2.2" fill="#0fb32a" stroke="#111" stroke-width="0.7"/>
<path d="M424.55 196.6V207.6M421.95 196.6H427.15M421.95 207.6H427.15" fill="none" stroke="#222" stroke-width="0.6"/>
<line x1="279.2" y1="179.32" x2="279.2" y2="284.28" stroke="#000" stroke-width="1.35"/>
<line x1="275" y1="283.6" x2="279.2" y2="283.6" stroke="#000" stroke-width="1.35"/>
<text x="273.4" y="286.59" font-size="8.3" text-anchor="end" font-weight="bold">0.0</text>
<line x1="275" y1="266.36" x2="279.2" y2="266.36" stroke="#000" stroke-width="1.35"/>
<text x="273.4" y="269.35" font-size="8.3" text-anchor="end" font-weight="bold">0.2</text>
<line x1="275" y1="249.12" x2="279.2" y2="249.12" stroke="#000" stroke-width="1.35"/>
<text x="273.4" y="252.11" font-size="8.3" text-anchor="end" font-weight="bold">0.4</text>
<line x1="275" y1="231.88" x2="279.2" y2="231.88" stroke="#000" stroke-width="1.35"/>
<text x="273.4" y="234.87" font-size="8.3" text-anchor="end" font-weight="bold">0.6</text>
<line x1="275" y1="214.64" x2="279.2" y2="214.64" stroke="#000" stroke-width="1.35"/>
<text x="273.4" y="217.63" font-size="8.3" text-anchor="end" font-weight="bold">0.8</text>
<line x1="275" y1="197.4" x2="279.2" y2="197.4" stroke="#000" stroke-width="1.35"/>
<text x="273.4" y="200.39" font-size="8.3" text-anchor="end" font-weight="bold">1.0</text>
<line x1="275" y1="180.16" x2="279.2" y2="180.16" stroke="#000" stroke-width="1.35"/>
<text x="273.4" y="183.15" font-size="8.3" text-anchor="end" font-weight="bold">1.2</text>
<line x1="278.7" y1="283.6" x2="435" y2="283.6" stroke="#000" stroke-width="1.35"/>
<line x1="289.55" y1="283.6" x2="289.55" y2="287.8" stroke="#000" stroke-width="1.35"/>
<line x1="304.55" y1="283.6" x2="304.55" y2="287.8" stroke="#000" stroke-width="1.35"/>
<line x1="319.55" y1="283.6" x2="319.55" y2="287.8" stroke="#000" stroke-width="1.35"/>
<line x1="334.55" y1="283.6" x2="334.55" y2="287.8" stroke="#000" stroke-width="1.35"/>
<line x1="349.55" y1="283.6" x2="349.55" y2="287.8" stroke="#000" stroke-width="1.35"/>
<line x1="364.55" y1="283.6" x2="364.55" y2="287.8" stroke="#000" stroke-width="1.35"/>
<line x1="379.55" y1="283.6" x2="379.55" y2="287.8" stroke="#000" stroke-width="1.35"/>
<line x1="394.55" y1="283.6" x2="394.55" y2="287.8" stroke="#000" stroke-width="1.35"/>
<line x1="409.55" y1="283.6" x2="409.55" y2="287.8" stroke="#000" stroke-width="1.35"/>
<line x1="424.55" y1="283.6" x2="424.55" y2="287.8" stroke="#000" stroke-width="1.35"/>
<text x="257.4" y="231" font-size="8.25" text-anchor="middle" transform="rotate(-90 257.4 231)" font-weight="bold">relative mean of GFP intensity</text>
<line x1="335" y1="181.5" x2="425.4" y2="181.5" stroke="#000" stroke-width="1.3"/>
<text x="380" y="177.2" font-size="7.4" text-anchor="middle" font-weight="bold">ns</text>
<text x="309.8" y="253" font-size="10.2" transform="rotate(-90 309.8 253)" font-weight="bold" letter-spacing="1.33" stroke="#000" stroke-width="0.4">****</text>
<text x="307.05" y="229.9" font-size="6" transform="rotate(-90 307.05 229.9)"><tspan font-style="italic">P</tspan>&lt;0.0001</text>
<text x="325.2" y="228.7" font-size="10.2" transform="rotate(-90 325.2 228.7)" font-weight="bold" letter-spacing="1.33" stroke="#000" stroke-width="0.4">****</text>
<text x="320.85" y="207.8" font-size="6" transform="rotate(-90 320.85 207.8)"><tspan font-style="italic">P</tspan>&lt;0.0001</text>
<text x="292.55" y="295.3" font-size="9.1" text-anchor="end" transform="rotate(-45 292.55 295.3)" font-weight="bold">DMSO</text>
<text x="307.55" y="295.3" font-size="9.1" text-anchor="end" transform="rotate(-45 307.55 295.3)" font-weight="bold">200</text>
<text x="322.55" y="295.3" font-size="9.1" text-anchor="end" transform="rotate(-45 322.55 295.3)" font-weight="bold">50</text>
<text x="337.55" y="295.3" font-size="9.1" text-anchor="end" transform="rotate(-45 337.55 295.3)" font-weight="bold">1</text>
<text x="352.55" y="295.3" font-size="9.1" text-anchor="end" transform="rotate(-45 352.55 295.3)" font-weight="bold">0.1</text>
<text x="367.55" y="295.3" font-size="9.1" text-anchor="end" transform="rotate(-45 367.55 295.3)" font-weight="bold">0.01</text>
<text x="382.55" y="295.3" font-size="9.1" text-anchor="end" transform="rotate(-45 382.55 295.3)" font-weight="bold">0.001</text>
<text x="397.55" y="295.3" font-size="9.1" text-anchor="end" transform="rotate(-45 397.55 295.3)" font-weight="bold">10</text>
<text x="412.55" y="295.3" font-size="9.1" text-anchor="end" transform="rotate(-45 412.55 295.3)" font-weight="bold">1</text>
<text x="427.55" y="295.3" font-size="9.1" text-anchor="end" transform="rotate(-45 427.55 295.3)" font-weight="bold">0.1</text>
<text x="430.2" y="300.4" font-size="8.3" font-weight="bold">(μM)</text>
<line x1="292.4" y1="312.6" x2="336" y2="312.6" stroke="#000" stroke-width="1.5"/>
<text x="314.5" y="323" font-size="8.3" text-anchor="middle" font-weight="bold">Cidofovir</text>
<line x1="338" y1="312.6" x2="383" y2="312.6" stroke="#000" stroke-width="1.5"/>
<text x="361.5" y="323" font-size="8.3" text-anchor="middle" font-weight="bold">Tecovirimat</text>
<line x1="387.6" y1="312.6" x2="430" y2="312.6" stroke="#000" stroke-width="1.5"/>
<text x="408.8" y="323" font-size="8.3" text-anchor="middle" font-weight="bold">G243-1720</text>
<text transform="translate(460.8 173.8) scale(1 1)" font-size="18.3" font-weight="bold">F</text>
<path d="M510.4 283.4V209.4H520.7V283.4" fill="#fff" stroke="#1a1a1a" stroke-width="0.7"/>
<circle cx="512.6" cy="210.4" r="2.2" fill="#a6a6a6" stroke="#111" stroke-width="0.7"/>
<circle cx="515.6" cy="208.4" r="2.2" fill="#a6a6a6" stroke="#111" stroke-width="0.7"/>
<circle cx="518.6" cy="208.8" r="2.2" fill="#a6a6a6" stroke="#111" stroke-width="0.7"/>
<path d="M515.55 207.8V211M512.95 207.8H518.15M512.95 211H518.15" fill="none" stroke="#222" stroke-width="0.6"/>
<path d="M525.4 283.4V256.6H535.7V283.4" fill="#fff" stroke="#1a1a1a" stroke-width="0.7"/>
<circle cx="527.4" cy="254" r="2.2" fill="#e43ee4" stroke="#111" stroke-width="0.7"/>
<circle cx="533" cy="257.4" r="2.2" fill="#e43ee4" stroke="#111" stroke-width="0.7"/>
<circle cx="527.4" cy="259" r="2.2" fill="#e43ee4" stroke="#111" stroke-width="0.7"/>
<path d="M530.55 253.4V259.6M527.95 253.4H533.15M527.95 259.6H533.15" fill="none" stroke="#222" stroke-width="0.6"/>
<path d="M540.4 283.4V237H550.7V283.4" fill="#fff" stroke="#1a1a1a" stroke-width="0.7"/>
<circle cx="545.4" cy="232.4" r="2.2" fill="#e43ee4" stroke="#111" stroke-width="0.7"/>
<circle cx="548.4" cy="238.4" r="2.2" fill="#e43ee4" stroke="#111" stroke-width="0.7"/>
<circle cx="542.4" cy="241.4" r="2.2" fill="#e43ee4" stroke="#111" stroke-width="0.7"/>
<path d="M545.55 232.4V241.6M542.95 232.4H548.15M542.95 241.6H548.15" fill="none" stroke="#222" stroke-width="0.6"/>
<path d="M555.4 283.4V222H565.7V283.4" fill="#fff" stroke="#1a1a1a" stroke-width="0.7"/>
<circle cx="560" cy="211.4" r="2.2" fill="#e43ee4" stroke="#111" stroke-width="0.7"/>
<circle cx="560" cy="224" r="2.2" fill="#e43ee4" stroke="#111" stroke-width="0.7"/>
<circle cx="560" cy="230.4" r="2.2" fill="#e43ee4" stroke="#111" stroke-width="0.7"/>
<path d="M560.55 211.6V232M557.95 211.6H563.15M557.95 232H563.15" fill="none" stroke="#222" stroke-width="0.6"/>
<path d="M570.4 283.4V217.4H580.7V283.4" fill="#fff" stroke="#1a1a1a" stroke-width="0.7"/>
<circle cx="575" cy="206.6" r="2.2" fill="#f7941d" stroke="#111" stroke-width="0.7"/>
<circle cx="575" cy="218.4" r="2.2" fill="#f7941d" stroke="#111" stroke-width="0.7"/>
<circle cx="575" cy="225.6" r="2.2" fill="#f7941d" stroke="#111" stroke-width="0.7"/>
<path d="M575.55 206.6V227.6M572.95 206.6H578.15M572.95 227.6H578.15" fill="none" stroke="#222" stroke-width="0.6"/>
<path d="M585.4 283.4V213H595.7V283.4" fill="#fff" stroke="#1a1a1a" stroke-width="0.7"/>
<circle cx="590" cy="204.4" r="2.2" fill="#f7941d" stroke="#111" stroke-width="0.7"/>
<circle cx="590" cy="210.4" r="2.2" fill="#f7941d" stroke="#111" stroke-width="0.7"/>
<circle cx="590" cy="224.6" r="2.2" fill="#f7941d" stroke="#111" stroke-width="0.7"/>
<path d="M590.55 203.4V223.6M587.95 203.4H593.15M587.95 223.6H593.15" fill="none" stroke="#222" stroke-width="0.6"/>
<path d="M600.4 283.4V221.6H610.7V283.4" fill="#fff" stroke="#1a1a1a" stroke-width="0.7"/>
<circle cx="605" cy="209.4" r="2.2" fill="#f7941d" stroke="#111" stroke-width="0.7"/>
<circle cx="605" cy="220" r="2.2" fill="#f7941d" stroke="#111" stroke-width="0.7"/>
<circle cx="605" cy="235.4" r="2.2" fill="#f7941d" stroke="#111" stroke-width="0.7"/>
<path d="M605.55 209V235M602.95 209H608.15M602.95 235H608.15" fill="none" stroke="#222" stroke-width="0.6"/>
<path d="M615.4 283.4V204H625.7V283.4" fill="#fff" stroke="#1a1a1a" stroke-width="0.7"/>
<circle cx="620" cy="193.6" r="2.2" fill="#0fb32a" stroke="#111" stroke-width="0.7"/>
<circle cx="617" cy="210" r="2.2" fill="#0fb32a" stroke="#111" stroke-width="0.7"/>
<circle cx="623" cy="208.6" r="2.2" fill="#0fb32a" stroke="#111" stroke-width="0.7"/>
<path d="M620.55 194V213.6M617.95 194H623.15M617.95 213.6H623.15" fill="none" stroke="#222" stroke-width="0.6"/>
<path d="M630.4 283.4V203H640.7V283.4" fill="#fff" stroke="#1a1a1a" stroke-width="0.7"/>
<circle cx="635" cy="192" r="2.2" fill="#0fb32a" stroke="#111" stroke-width="0.7"/>
<circle cx="635" cy="203.6" r="2.2" fill="#0fb32a" stroke="#111" stroke-width="0.7"/>
<circle cx="635" cy="212.6" r="2.2" fill="#0fb32a" stroke="#111" stroke-width="0.7"/>
<path d="M635.55 192V214M632.95 192H638.15M632.95 214H638.15" fill="none" stroke="#222" stroke-width="0.6"/>
<path d="M645.4 283.4V217.6H655.7V283.4" fill="#fff" stroke="#1a1a1a" stroke-width="0.7"/>
<circle cx="650" cy="206.6" r="2.2" fill="#0fb32a" stroke="#111" stroke-width="0.7"/>
<circle cx="650" cy="217.4" r="2.2" fill="#0fb32a" stroke="#111" stroke-width="0.7"/>
<circle cx="650" cy="229.4" r="2.2" fill="#0fb32a" stroke="#111" stroke-width="0.7"/>
<path d="M650.55 206V229.4M647.95 206H653.15M647.95 229.4H653.15" fill="none" stroke="#222" stroke-width="0.6"/>
<line x1="505" y1="179.32" x2="505" y2="284.07" stroke="#000" stroke-width="1.35"/>
<line x1="500.8" y1="283.4" x2="505" y2="283.4" stroke="#000" stroke-width="1.35"/>
<text x="499.2" y="286.39" font-size="8.3" text-anchor="end" font-weight="bold">0.0</text>
<line x1="500.8" y1="268.65" x2="505" y2="268.65" stroke="#000" stroke-width="1.35"/>
<text x="499.2" y="271.64" font-size="8.3" text-anchor="end" font-weight="bold">0.2</text>
<line x1="500.8" y1="253.9" x2="505" y2="253.9" stroke="#000" stroke-width="1.35"/>
<text x="499.2" y="256.89" font-size="8.3" text-anchor="end" font-weight="bold">0.4</text>
<line x1="500.8" y1="239.15" x2="505" y2="239.15" stroke="#000" stroke-width="1.35"/>
<text x="499.2" y="242.14" font-size="8.3" text-anchor="end" font-weight="bold">0.6</text>
<line x1="500.8" y1="224.4" x2="505" y2="224.4" stroke="#000" stroke-width="1.35"/>
<text x="499.2" y="227.39" font-size="8.3" text-anchor="end" font-weight="bold">0.8</text>
<line x1="500.8" y1="209.65" x2="505" y2="209.65" stroke="#000" stroke-width="1.35"/>
<text x="499.2" y="212.64" font-size="8.3" text-anchor="end" font-weight="bold">1.0</text>
<line x1="500.8" y1="194.9" x2="505" y2="194.9" stroke="#000" stroke-width="1.35"/>
<text x="499.2" y="197.89" font-size="8.3" text-anchor="end" font-weight="bold">1.2</text>
<line x1="500.8" y1="180.15" x2="505" y2="180.15" stroke="#000" stroke-width="1.35"/>
<text x="499.2" y="183.14" font-size="8.3" text-anchor="end" font-weight="bold">1.4</text>
<line x1="504.5" y1="283.4" x2="660" y2="283.4" stroke="#000" stroke-width="1.35"/>
<line x1="515.55" y1="283.4" x2="515.55" y2="287.6" stroke="#000" stroke-width="1.35"/>
<line x1="530.55" y1="283.4" x2="530.55" y2="287.6" stroke="#000" stroke-width="1.35"/>
<line x1="545.55" y1="283.4" x2="545.55" y2="287.6" stroke="#000" stroke-width="1.35"/>
<line x1="560.55" y1="283.4" x2="560.55" y2="287.6" stroke="#000" stroke-width="1.35"/>
<line x1="575.55" y1="283.4" x2="575.55" y2="287.6" stroke="#000" stroke-width="1.35"/>
<line x1="590.55" y1="283.4" x2="590.55" y2="287.6" stroke="#000" stroke-width="1.35"/>
<line x1="605.55" y1="283.4" x2="605.55" y2="287.6" stroke="#000" stroke-width="1.35"/>
<line x1="620.55" y1="283.4" x2="620.55" y2="287.6" stroke="#000" stroke-width="1.35"/>
<line x1="635.55" y1="283.4" x2="635.55" y2="287.6" stroke="#000" stroke-width="1.35"/>
<line x1="650.55" y1="283.4" x2="650.55" y2="287.6" stroke="#000" stroke-width="1.35"/>
<text x="483.4" y="232" font-size="8.15" text-anchor="middle" transform="rotate(-90 483.4 232)" font-weight="bold">relative luminescense intensity</text>
<line x1="559.6" y1="188.4" x2="650.6" y2="188.4" stroke="#000" stroke-width="1.3"/>
<text x="605" y="184" font-size="7.4" text-anchor="middle" font-weight="bold">ns</text>
<text x="535.9" y="245.8" font-size="10.2" transform="rotate(-90 535.9 245.8)" font-weight="bold" letter-spacing="1.33" stroke="#000" stroke-width="0.4">****</text>
<text x="532.25" y="221.6" font-size="6" transform="rotate(-90 532.25 221.6)"><tspan font-style="italic">P</tspan>&lt;0.0001</text>
<text x="551.1" y="224.3" font-size="10.2" transform="rotate(-90 551.1 224.3)" font-weight="bold" letter-spacing="1.33" stroke="#000" stroke-width="0.4">**</text>
<text x="546.95" y="212.8" font-size="5.3" transform="rotate(-90 546.95 212.8)"><tspan font-style="italic">P</tspan>=0.0071</text>
<text x="518.55" y="295.1" font-size="9.1" text-anchor="end" transform="rotate(-45 518.55 295.1)" font-weight="bold">DMSO</text>
<text x="533.55" y="295.1" font-size="9.1" text-anchor="end" transform="rotate(-45 533.55 295.1)" font-weight="bold">200</text>
<text x="548.55" y="295.1" font-size="9.1" text-anchor="end" transform="rotate(-45 548.55 295.1)" font-weight="bold">50</text>
<text x="563.55" y="295.1" font-size="9.1" text-anchor="end" transform="rotate(-45 563.55 295.1)" font-weight="bold">1</text>
<text x="578.55" y="295.1" font-size="9.1" text-anchor="end" transform="rotate(-45 578.55 295.1)" font-weight="bold">0.1</text>
<text x="593.55" y="295.1" font-size="9.1" text-anchor="end" transform="rotate(-45 593.55 295.1)" font-weight="bold">0.01</text>
<text x="608.55" y="295.1" font-size="9.1" text-anchor="end" transform="rotate(-45 608.55 295.1)" font-weight="bold">0.001</text>
<text x="623.55" y="295.1" font-size="9.1" text-anchor="end" transform="rotate(-45 623.55 295.1)" font-weight="bold">10</text>
<text x="638.55" y="295.1" font-size="9.1" text-anchor="end" transform="rotate(-45 638.55 295.1)" font-weight="bold">1</text>
<text x="653.55" y="295.1" font-size="9.1" text-anchor="end" transform="rotate(-45 653.55 295.1)" font-weight="bold">0.1</text>
<text x="655" y="300" font-size="8.3" font-weight="bold">(μM)</text>
<line x1="519" y1="312.4" x2="562.6" y2="312.4" stroke="#000" stroke-width="1.5"/>
<text x="541" y="322.8" font-size="8.3" text-anchor="middle" font-weight="bold">Cidofovir</text>
<line x1="564" y1="312.4" x2="609.6" y2="312.4" stroke="#000" stroke-width="1.5"/>
<text x="587" y="322.8" font-size="8.3" text-anchor="middle" font-weight="bold">Tecovirimat</text>
<line x1="613" y1="312.4" x2="655.4" y2="312.4" stroke="#000" stroke-width="1.5"/>
<text x="636.4" y="322.8" font-size="8.3" text-anchor="middle" font-weight="bold">G243-1720</text>
<defs>
<filter id="gr" x="0" y="0" width="100%" height="100%" color-interpolation-filters="sRGB">
<feTurbulence type="fractalNoise" baseFrequency="0.45" numOctaves="2" seed="4" result="t"/>
<feColorMatrix in="t" type="matrix" values="0.36 0 0 0 0.32  0.36 0 0 0 0.32  0.36 0 0 0 0.32  0 0 0 0 1" result="g"/>
<feTurbulence type="fractalNoise" baseFrequency="0.09" numOctaves="2" seed="11" result="t2"/>
<feColorMatrix in="t2" type="matrix" values="0.45 0 0 0 0.275  0.45 0 0 0 0.275  0.45 0 0 0 0.275  0 0 0 0 1" result="g2"/>
<feBlend in="g2" in2="SourceGraphic" mode="hard-light" result="m0"/>
<feBlend in="g" in2="m0" mode="hard-light" result="m"/>
<feComposite in="m" in2="SourceAlpha" operator="in"/>
</filter>
<filter id="gr2" x="0" y="0" width="100%" height="100%" color-interpolation-filters="sRGB">
<feTurbulence type="fractalNoise" baseFrequency="0.35" numOctaves="3" seed="9" result="t"/>
<feColorMatrix in="t" type="matrix" values="0.46 0 0 0 0.27  0.46 0 0 0 0.27  0.46 0 0 0 0.27  0 0 0 0 1" result="g"/>
<feBlend in="g" in2="SourceGraphic" mode="hard-light" result="m"/>
<feComposite in="m" in2="SourceAlpha" operator="in"/>
</filter>
<filter id="b05" x="-10%" y="-10%" width="120%" height="120%"><feGaussianBlur stdDeviation="0.5"/></filter>
<filter id="b1" x="-20%" y="-20%" width="140%" height="140%"><feGaussianBlur stdDeviation="0.8"/></filter>
<filter id="b2" x="-20%" y="-20%" width="140%" height="140%"><feGaussianBlur stdDeviation="1.6"/></filter>
<filter id="b3" x="-30%" y="-30%" width="160%" height="160%"><feGaussianBlur stdDeviation="3"/></filter>
<clipPath id="cG"><rect x="14" y="358.4" width="199.2" height="149.9"/></clipPath>
<clipPath id="cGi"><rect x="14" y="358.4" width="99.7" height="66.9"/></clipPath>
<clipPath id="cH"><rect x="243.7" y="358.4" width="200.3" height="149.9"/></clipPath>
<clipPath id="cHi"><rect x="342.3" y="358.4" width="101.7" height="66.9"/></clipPath>
<clipPath id="cI"><rect x="479.7" y="358.4" width="200" height="149.9"/></clipPath>
<clipPath id="cIi"><rect x="579.7" y="358.4" width="100" height="66.6"/></clipPath>
</defs>
<text transform="translate(0.6 352.3) scale(1 1)" font-size="18.3" font-weight="bold">G</text>
<text x="104.5" y="353.6" font-size="10.7" text-anchor="middle" font-weight="bold">DMSO</text>
<g clip-path="url(#cG)">
<rect x="14" y="358.4" width="199.2" height="149.9" fill="#ebebeb"/>
<g filter="url(#gr)">
<polygon points="14,358.4 160,358.4 169,369 179,381 185.5,392 189,405 191.5,417 190.5,429 189.4,444 188,456 186.5,467 182,479 176.3,488.4 173,498 172,508.3 98,508.3 95.8,507 80,497 62.6,484.8 45,472.6 27.5,457.7 14,449" fill="#c0c0c0"/>
<ellipse cx="184.94" cy="471.21" rx="2.33" ry="1.93" fill="#b4b4b4" transform="rotate(95.41 184.94 471.21)"/>
<ellipse cx="192.78" cy="398.12" rx="1.7" ry="1.06" fill="#777" transform="rotate(97.88 192.78 398.12)"/>
<ellipse cx="182.01" cy="390.85" rx="2.46" ry="2.17" fill="#9a9a9a" transform="rotate(28.73 182.01 390.85)"/>
<ellipse cx="183.13" cy="385.59" rx="2.55" ry="1.28" fill="#a8a8a8" transform="rotate(139.25 183.13 385.59)"/>
<ellipse cx="189.26" cy="384.42" rx="2.05" ry="1.24" fill="#a8a8a8" transform="rotate(169.38 189.26 384.42)"/>
<ellipse cx="189.78" cy="431.48" rx="1.15" ry="0.61" fill="#777" transform="rotate(54.24 189.78 431.48)"/>
<ellipse cx="189.26" cy="466.07" rx="1.43" ry="1.3" fill="#8a8a8a" transform="rotate(86.53 189.26 466.07)"/>
<ellipse cx="186.4" cy="383.64" rx="2.56" ry="1.31" fill="#b4b4b4" transform="rotate(134.96 186.4 383.64)"/>
<ellipse cx="164.64" cy="363.48" rx="2.33" ry="1.69" fill="#777" transform="rotate(127.4 164.64 363.48)"/>
<ellipse cx="182.85" cy="395.46" rx="1.69" ry="1.27" fill="#8a8a8a" transform="rotate(160.69 182.85 395.46)"/>
<ellipse cx="192.73" cy="447.08" rx="2.36" ry="1.22" fill="#9a9a9a" transform="rotate(170.24 192.73 447.08)"/>
<ellipse cx="189.47" cy="398.94" rx="1.48" ry="1.42" fill="#8a8a8a" transform="rotate(98.13 189.47 398.94)"/>
<ellipse cx="177.97" cy="479.45" rx="1.15" ry="0.97" fill="#a8a8a8" transform="rotate(179.41 177.97 479.45)"/>
<ellipse cx="163.34" cy="361.8" rx="0.95" ry="0.83" fill="#8a8a8a" transform="rotate(61.89 163.34 361.8)"/>
<ellipse cx="185.94" cy="454.69" rx="1.99" ry="1.79" fill="#a8a8a8" transform="rotate(60.15 185.94 454.69)"/>
<ellipse cx="187.4" cy="389.59" rx="2.42" ry="1.71" fill="#8a8a8a" transform="rotate(30.39 187.4 389.59)"/>
<ellipse cx="179.11" cy="379.49" rx="2.47" ry="2" fill="#777" transform="rotate(30.47 179.11 379.49)"/>
<ellipse cx="190.94" cy="454.43" rx="1.37" ry="1" fill="#9a9a9a" transform="rotate(162.33 190.94 454.43)"/>
<ellipse cx="190.91" cy="439.41" rx="2.49" ry="2.33" fill="#b4b4b4" transform="rotate(32.42 190.91 439.41)"/>
<ellipse cx="191.77" cy="411.2" rx="1.01" ry="0.9" fill="#777" transform="rotate(64.03 191.77 411.2)"/>
<ellipse cx="180.86" cy="479.68" rx="2.04" ry="1.87" fill="#8a8a8a" transform="rotate(47.67 180.86 479.68)"/>
<ellipse cx="192.66" cy="421.87" rx="1.83" ry="1.14" fill="#b4b4b4" transform="rotate(120.9 192.66 421.87)"/>
<ellipse cx="193.52" cy="416.59" rx="1.49" ry="1.23" fill="#b4b4b4" transform="rotate(132.81 193.52 416.59)"/>
<ellipse cx="188.3" cy="430.27" rx="1.66" ry="1.14" fill="#a8a8a8" transform="rotate(60.18 188.3 430.27)"/>
<ellipse cx="184.52" cy="465.95" rx="2.35" ry="1.51" fill="#b4b4b4" transform="rotate(14.19 184.52 465.95)"/>
<ellipse cx="190.99" cy="387.88" rx="2.49" ry="1.62" fill="#8a8a8a" transform="rotate(99.58 190.99 387.88)"/>
<ellipse cx="164.14" cy="361.22" rx="1.21" ry="1.06" fill="#9a9a9a" transform="rotate(32.5 164.14 361.22)"/>
<ellipse cx="185.69" cy="458.11" rx="1.09" ry="1.07" fill="#777" transform="rotate(86.88 185.69 458.11)"/>
<ellipse cx="162.36" cy="363.78" rx="1.02" ry="0.62" fill="#8a8a8a" transform="rotate(129.24 162.36 363.78)"/>
<ellipse cx="171.39" cy="364.25" rx="2.37" ry="2" fill="#9a9a9a" transform="rotate(98.5 171.39 364.25)"/>
<ellipse cx="184.03" cy="463.02" rx="1.48" ry="1.17" fill="#a8a8a8" transform="rotate(172.49 184.03 463.02)"/>
<ellipse cx="191.69" cy="435.37" rx="1.69" ry="0.98" fill="#b4b4b4" transform="rotate(68.89 191.69 435.37)"/>
<ellipse cx="190.97" cy="403.69" rx="2.42" ry="1.21" fill="#777" transform="rotate(19.43 190.97 403.69)"/>
<ellipse cx="183.33" cy="475.73" rx="1.86" ry="1.33" fill="#b4b4b4" transform="rotate(175.8 183.33 475.73)"/>
<ellipse cx="193.28" cy="410.06" rx="2.35" ry="1.36" fill="#8a8a8a" transform="rotate(106.91 193.28 410.06)"/>
<ellipse cx="185.25" cy="449.68" rx="1.42" ry="1.37" fill="#9a9a9a" transform="rotate(25.79 185.25 449.68)"/>
<ellipse cx="183.97" cy="375.39" rx="0.97" ry="0.55" fill="#b4b4b4" transform="rotate(70.63 183.97 375.39)"/>
<ellipse cx="185.59" cy="462.01" rx="0.96" ry="0.72" fill="#8a8a8a" transform="rotate(151.9 185.59 462.01)"/>
<ellipse cx="196.16" cy="411.02" rx="2.37" ry="2.23" fill="#9a9a9a" transform="rotate(161.1 196.16 411.02)"/>
<ellipse cx="182.49" cy="383.32" rx="1.4" ry="1.07" fill="#8a8a8a" transform="rotate(83.58 182.49 383.32)"/>
<ellipse cx="179.66" cy="483.22" rx="1.33" ry="0.97" fill="#777" transform="rotate(164.98 179.66 483.22)"/>
<ellipse cx="191.01" cy="391.76" rx="1.88" ry="1.6" fill="#b4b4b4" transform="rotate(113.8 191.01 391.76)"/>
<ellipse cx="192.8" cy="437.45" rx="2.43" ry="1.78" fill="#8a8a8a" transform="rotate(136.48 192.8 437.45)"/>
<ellipse cx="166.18" cy="364.48" rx="2.23" ry="2.13" fill="#b4b4b4" transform="rotate(25.68 166.18 364.48)"/>
<ellipse cx="192.4" cy="466" rx="1.62" ry="1.25" fill="#a8a8a8" transform="rotate(8.74 192.4 466)"/>
<ellipse cx="194.97" cy="415.82" rx="0.94" ry="0.81" fill="#b4b4b4" transform="rotate(176.16 194.97 415.82)"/>
<ellipse cx="193.75" cy="442.9" rx="2" ry="1.95" fill="#a8a8a8" transform="rotate(128.24 193.75 442.9)"/>
<ellipse cx="191.14" cy="411.57" rx="1.21" ry="1.09" fill="#a8a8a8" transform="rotate(12.1 191.14 411.57)"/>
<ellipse cx="168.56" cy="365.76" rx="1.38" ry="1.08" fill="#b4b4b4" transform="rotate(21.3 168.56 365.76)"/>
<ellipse cx="186.21" cy="467.5" rx="1.92" ry="1.43" fill="#8a8a8a" transform="rotate(168.94 186.21 467.5)"/>
<ellipse cx="158.96" cy="360.28" rx="2.05" ry="1.32" fill="#777" transform="rotate(169.55 158.96 360.28)"/>
<ellipse cx="182.14" cy="468.06" rx="2.32" ry="1.49" fill="#a8a8a8" transform="rotate(175.52 182.14 468.06)"/>
<ellipse cx="190.94" cy="420.23" rx="0.93" ry="0.63" fill="#9a9a9a" transform="rotate(103.18 190.94 420.23)"/>
<ellipse cx="178.74" cy="379.08" rx="1.56" ry="1.14" fill="#9a9a9a" transform="rotate(173.39 178.74 379.08)"/>
<ellipse cx="191.21" cy="453.65" rx="1.16" ry="1.13" fill="#a8a8a8" transform="rotate(122.6 191.21 453.65)"/>
<ellipse cx="177.42" cy="369.95" rx="1.26" ry="1.07" fill="#a8a8a8" transform="rotate(67.66 177.42 369.95)"/>
<ellipse cx="191.97" cy="408.09" rx="1.56" ry="0.88" fill="#8a8a8a" transform="rotate(149.6 191.97 408.09)"/>
<ellipse cx="184.05" cy="483.18" rx="1.91" ry="1.5" fill="#b4b4b4" transform="rotate(133.23 184.05 483.18)"/>
<ellipse cx="163.5" cy="368.38" rx="0.97" ry="0.91" fill="#8a8a8a" transform="rotate(86.58 163.5 368.38)"/>
<ellipse cx="161.65" cy="365.53" rx="2.47" ry="1.63" fill="#a8a8a8" transform="rotate(83.14 161.65 365.53)"/>
<ellipse cx="177.39" cy="390.4" rx="2.38" ry="1.75" fill="#9a9a9a" transform="rotate(99.37 177.39 390.4)"/>
<ellipse cx="194.55" cy="415.85" rx="0.96" ry="0.91" fill="#8a8a8a" transform="rotate(61.97 194.55 415.85)"/>
<ellipse cx="193.44" cy="429.3" rx="1.7" ry="1.66" fill="#8a8a8a" transform="rotate(21.22 193.44 429.3)"/>
<ellipse cx="188.53" cy="413.41" rx="0.96" ry="0.82" fill="#9a9a9a" transform="rotate(103.45 188.53 413.41)"/>
<ellipse cx="190.43" cy="471" rx="1.43" ry="1.05" fill="#b4b4b4" transform="rotate(50.97 190.43 471)"/>
<ellipse cx="179.85" cy="387.79" rx="0.97" ry="0.78" fill="#8a8a8a" transform="rotate(130.76 179.85 387.79)"/>
<ellipse cx="164.41" cy="364.38" rx="1.19" ry="0.61" fill="#777" transform="rotate(150.4 164.41 364.38)"/>
<ellipse cx="181.86" cy="468.63" rx="2.43" ry="1.81" fill="#9a9a9a" transform="rotate(168.43 181.86 468.63)"/>
<ellipse cx="177.12" cy="480.67" rx="1" ry="0.63" fill="#8a8a8a" transform="rotate(73.34 177.12 480.67)"/>
<ellipse cx="178.08" cy="482.31" rx="1.2" ry="0.91" fill="#777" transform="rotate(72.42 178.08 482.31)"/>
<ellipse cx="163" cy="362" rx="3" ry="2.4" fill="#a0a0a0"/>
<ellipse cx="170" cy="366" rx="2.5" ry="2" fill="#a0a0a0"/>
<ellipse cx="176" cy="372" rx="2.5" ry="2" fill="#a0a0a0"/>
<ellipse cx="150" cy="361" rx="3" ry="2.4" fill="#a0a0a0"/>
<ellipse cx="140" cy="362" rx="2.5" ry="2" fill="#a0a0a0"/>
<ellipse cx="185" cy="367" rx="2.6" ry="2.08" fill="#a0a0a0"/>
<ellipse cx="178" cy="364" rx="2" ry="1.6" fill="#a0a0a0"/>
<ellipse cx="192" cy="383" rx="2.8" ry="2.24" fill="#a0a0a0"/>
<ellipse cx="197" cy="391" rx="2.2" ry="1.76" fill="#a0a0a0"/>
<ellipse cx="73.5" cy="427.5" rx="37.2" ry="40" fill="#a2a2a2" stroke="#474747" stroke-width="2" filter="url(#b05)"/>
<ellipse cx="146.8" cy="450" rx="28" ry="29.8" fill="#9e9e9e" transform="rotate(-25 146.8 450)" stroke="#3e3e3e" stroke-width="2.5" filter="url(#b05)"/>
<ellipse cx="111" cy="458" rx="5" ry="6.5" fill="#dedede" filter="url(#b1)"/>
<ellipse cx="114" cy="447" rx="2.5" ry="5" fill="#d6d6d6" transform="rotate(20 114 447)" filter="url(#b1)"/>
<ellipse cx="150" cy="383" rx="2.6" ry="2.6" fill="#555"/>
<ellipse cx="139" cy="388" rx="2.6" ry="2.6" fill="#555"/>
<ellipse cx="134" cy="392" rx="2.2" ry="2.2" fill="#555"/>
<ellipse cx="143" cy="396" rx="1.8" ry="1.8" fill="#555"/>
<ellipse cx="168" cy="400" rx="1.6" ry="1.6" fill="#555"/>
<ellipse cx="174" cy="408" rx="1.6" ry="1.6" fill="#555"/>
<ellipse cx="60" cy="477" rx="1.6" ry="1.6" fill="#555"/>
<ellipse cx="120" cy="488" rx="2" ry="2" fill="#555"/>
<ellipse cx="160" cy="470" rx="1.6" ry="1.6" fill="#555"/>
<ellipse cx="147" cy="410" rx="1.2" ry="1.2" fill="#555"/>
<ellipse cx="150" cy="413" rx="1.2" ry="1.2" fill="#555"/>
<ellipse cx="145" cy="414" rx="1.2" ry="1.2" fill="#555"/>
<ellipse cx="152" cy="407" rx="1.2" ry="1.2" fill="#555"/>
</g>
<ellipse cx="199.6" cy="434.6" rx="3.2" ry="3.2" fill="none" stroke="#9a9a9a" stroke-width="0.9"/>
<ellipse cx="22.3" cy="503.2" rx="4.4" ry="3.8" fill="none" stroke="#8a8a8a" stroke-width="1"/>
<g clip-path="url(#cGi)"><g filter="url(#gr2)">
<rect x="14" y="358.4" width="99.7" height="66.9" fill="#c6c6c6"/>
<ellipse cx="28" cy="415" rx="14" ry="9" fill="#a0a0a0" filter="url(#b2)"/>
<ellipse cx="100" cy="395" rx="10" ry="20" fill="#b0b0b0" filter="url(#b2)"/>
<ellipse cx="25.3" cy="372" rx="12.2" ry="12.2" fill="#c9c9c9" stroke="#424242" stroke-width="1.6"/>
<ellipse cx="50.5" cy="369.5" rx="10.8" ry="10.8" fill="#cdcdcd" stroke="#4a4a4a" stroke-width="1.3"/>
<rect x="52" y="358" width="30" height="24" fill="#c8c8c8" filter="url(#b1)"/>
</g>
<ellipse cx="67" cy="368.6" rx="7.5" ry="10.9" fill="#7a7a7a" transform="rotate(25 67 368.6)" filter="url(#b1)"/>
<ellipse cx="67" cy="368.6" rx="5.9" ry="9.3" fill="#404040" transform="rotate(25 67 368.6)" filter="url(#b1)"/>
<ellipse cx="56.6" cy="390.6" rx="7.9" ry="11.9" fill="#7a7a7a" transform="rotate(-5 56.6 390.6)" filter="url(#b1)"/>
<ellipse cx="56.6" cy="390.6" rx="6.3" ry="10.3" fill="#404040" transform="rotate(-5 56.6 390.6)" filter="url(#b1)"/>
<ellipse cx="75" cy="389" rx="8.3" ry="12.5" fill="#7a7a7a" filter="url(#b1)"/>
<ellipse cx="75" cy="389" rx="6.7" ry="10.9" fill="#2c2c2c" filter="url(#b1)"/>
<ellipse cx="91" cy="390" rx="7.5" ry="10.7" fill="#7a7a7a" transform="rotate(5 91 390)" filter="url(#b1)"/>
<ellipse cx="91" cy="390" rx="5.9" ry="9.1" fill="#404040" transform="rotate(5 91 390)" filter="url(#b1)"/>
<ellipse cx="38" cy="397.6" rx="7.9" ry="11.5" fill="#7a7a7a" transform="rotate(25 38 397.6)" filter="url(#b1)"/>
<ellipse cx="38" cy="397.6" rx="6.3" ry="9.9" fill="#404040" transform="rotate(25 38 397.6)" filter="url(#b1)"/>
<ellipse cx="54.6" cy="412.8" rx="11.3" ry="7.7" fill="#7a7a7a" transform="rotate(5 54.6 412.8)" filter="url(#b1)"/>
<ellipse cx="54.6" cy="412.8" rx="9.7" ry="6.1" fill="#404040" transform="rotate(5 54.6 412.8)" filter="url(#b1)"/>
<ellipse cx="76.6" cy="412.8" rx="8.3" ry="12.3" fill="#7a7a7a" transform="rotate(35 76.6 412.8)" filter="url(#b1)"/>
<ellipse cx="76.6" cy="412.8" rx="6.7" ry="10.7" fill="#404040" transform="rotate(35 76.6 412.8)" filter="url(#b1)"/>
</g>
<rect x="14" y="358.4" width="99.7" height="66.9" fill="none" stroke="#111" stroke-width="0.8"/>
<rect x="137.7" y="400" width="19.6" height="19.3" fill="none" stroke="#111" stroke-width="0.7"/>
<line x1="113.7" y1="358.4" x2="137.7" y2="400" stroke="#111" stroke-width="0.6"/>
<line x1="113.7" y1="425.3" x2="137.7" y2="419.3" stroke="#111" stroke-width="0.6"/>
<line x1="192.8" y1="505.4" x2="212.5" y2="505.4" stroke="#fff" stroke-width="1.6"/>
</g>
<text transform="translate(230.1 352.3) scale(1 1)" font-size="18.3" font-weight="bold">H</text>
<text x="331.6" y="353.2" font-size="10.7" text-anchor="middle" font-weight="bold">Tecovirimat</text>
<g clip-path="url(#cH)">
<linearGradient id="hbg" x1="0" x2="1" y1="0" y2="0"><stop offset="0" stop-color="#efefef"/><stop offset="1" stop-color="#dcdcdc"/></linearGradient>
<rect x="243.7" y="358.4" width="200.3" height="149.9" fill="url(#hbg)"/>
<g filter="url(#gr)">
<polygon points="243.7,358.4 288,358.4 291,368 290.6,378 283,388 275,395 266,402 258.4,407 250,411 243.7,416" fill="#a6a6a6"/>
<ellipse cx="263" cy="363" rx="3.6" ry="3.06" fill="#2e2e2e"/>
<ellipse cx="268" cy="369" rx="3" ry="2.55" fill="#2e2e2e"/>
<ellipse cx="262" cy="372" rx="2.4" ry="2.04" fill="#2e2e2e"/>
<ellipse cx="255" cy="380" rx="2.6" ry="2.21" fill="#2e2e2e"/>
<ellipse cx="250" cy="386" rx="2.2" ry="1.87" fill="#2e2e2e"/>
<ellipse cx="258" cy="384" rx="1.6" ry="1.36" fill="#2e2e2e"/>
<ellipse cx="278" cy="364" rx="2" ry="1.7" fill="#2e2e2e"/>
<ellipse cx="284" cy="370" rx="1.5" ry="1.27" fill="#2e2e2e"/>
<ellipse cx="272" cy="378" rx="1.6" ry="1.36" fill="#2e2e2e"/>
<ellipse cx="249" cy="368" rx="1.4" ry="1.19" fill="#2e2e2e"/>
<path d="M297,358.4 L342,358.4 L444,358.4 L444,425 L421.3,425.3 C424,445 420,465 404.7,483.3 C390,498 365,506 341.3,505.7 C318,503 297,488 286,466.7 C276,440 279,405 290,381 C293,372 296,365 297,358.4 Z" fill="#8e8e8e" stroke="#767676" stroke-width="1"/>
<polygon points="300,362 312,359 314,366 306,372 300,369" fill="#f0f0f0" filter="url(#b1)"/>
<polygon points="294,374 303,372 305,378 297,384 293,380" fill="#eeeeee" filter="url(#b1)"/>
<ellipse cx="349.8" cy="462" rx="49.2" ry="34.2" fill="#8f8f8f" stroke="#363636" stroke-width="2" filter="url(#b05)"/>
<path d="M303.5,452 q2,-12 9,-19 q5,2 1,10 q-4,10 3,23 q-6,4 -10,-3 q-3,-6 -3,-11 z" fill="#404040" filter="url(#b05)"/>
<path d="M318,436 q10,-7 20,-6 q-2,6 -12,7 q-4,3 -8,-1 z" fill="#484848" filter="url(#b05)"/>
<path d="M322,487 q8,4 16,4 q-2,5 -10,3 q-5,-2 -6,-7 z" fill="#484848" filter="url(#b05)"/>
<ellipse cx="356.7" cy="470.3" rx="9.5" ry="7.8" fill="#3a3a3a" transform="rotate(-10 356.7 470.3)" filter="url(#b05)"/>
<ellipse cx="330" cy="465" rx="3" ry="2.4" fill="#484848"/>
<ellipse cx="322" cy="478" rx="2.5" ry="2" fill="#484848"/>
<ellipse cx="338" cy="449" rx="2.2" ry="1.76" fill="#484848"/>
<ellipse cx="345" cy="482" rx="2" ry="1.6" fill="#484848"/>
<ellipse cx="352" cy="492" rx="2.2" ry="1.76" fill="#484848"/>
<ellipse cx="380" cy="489" rx="2" ry="1.6" fill="#484848"/>
<ellipse cx="394" cy="478" rx="2" ry="1.6" fill="#484848"/>
<ellipse cx="328" cy="442" rx="2" ry="1.6" fill="#484848"/>
<ellipse cx="370" cy="440" rx="1.8" ry="1.44" fill="#484848"/>
<ellipse cx="390" cy="452" rx="2" ry="1.6" fill="#484848"/>
<ellipse cx="302.8" cy="395.6" rx="3.2" ry="2.88" fill="#343434"/>
<ellipse cx="293.6" cy="402.5" rx="3" ry="2.7" fill="#343434"/>
<ellipse cx="289.8" cy="409.4" rx="2.6" ry="2.34" fill="#343434"/>
<ellipse cx="296" cy="413" rx="2.6" ry="2.34" fill="#343434"/>
<ellipse cx="297.5" cy="420" rx="2.6" ry="2.34" fill="#343434"/>
<ellipse cx="312" cy="402.5" rx="2.6" ry="2.34" fill="#343434"/>
<ellipse cx="299" cy="430" rx="2.4" ry="2.16" fill="#343434"/>
<ellipse cx="286" cy="436" rx="2" ry="1.8" fill="#343434"/>
<ellipse cx="331" cy="499" rx="2.4" ry="2.16" fill="#343434"/>
<ellipse cx="350" cy="501" rx="2.4" ry="2.16" fill="#343434"/>
<ellipse cx="304.4" cy="405.6" rx="4" ry="3.6" fill="#e2e2e2" filter="url(#b1)"/>
<ellipse cx="319.7" cy="414" rx="5" ry="4.4" fill="#e2e2e2" filter="url(#b1)"/>
<ellipse cx="328" cy="373.4" rx="4" ry="3.4" fill="#e2e2e2" filter="url(#b1)"/>
<ellipse cx="310" cy="418" rx="3" ry="2.6" fill="#e2e2e2" filter="url(#b1)"/>
<ellipse cx="330" cy="428" rx="4" ry="3" fill="#e2e2e2" filter="url(#b1)"/>
<ellipse cx="408" cy="432" rx="5" ry="5" fill="#e2e2e2" filter="url(#b1)"/>
<ellipse cx="415" cy="452" rx="3.5" ry="4" fill="#e2e2e2" filter="url(#b1)"/>
<ellipse cx="412" cy="466" rx="3" ry="3" fill="#e2e2e2" filter="url(#b1)"/>
<ellipse cx="325" cy="397" rx="0.9" ry="0.9" fill="#111"/>
<ellipse cx="329" cy="402" rx="0.9" ry="0.9" fill="#111"/>
<ellipse cx="320" cy="404" rx="0.9" ry="0.9" fill="#111"/>
<ellipse cx="333" cy="394" rx="0.9" ry="0.9" fill="#111"/>
<ellipse cx="316" cy="398" rx="0.9" ry="0.9" fill="#111"/>
<ellipse cx="327" cy="390" rx="0.9" ry="0.9" fill="#111"/>
<ellipse cx="419" cy="438" rx="0.9" ry="0.9" fill="#111"/>
<ellipse cx="416" cy="443" rx="0.9" ry="0.9" fill="#111"/>
<ellipse cx="421" cy="444" rx="0.9" ry="0.9" fill="#111"/>
<ellipse cx="414" cy="480" rx="0.9" ry="0.9" fill="#111"/>
<ellipse cx="405" cy="470" rx="0.9" ry="0.9" fill="#111"/>
</g>
<line x1="283" y1="470" x2="277" y2="474" stroke="#a8a8a8" stroke-width="1.2"/>
<line x1="288" y1="480" x2="281" y2="486" stroke="#a8a8a8" stroke-width="1.2"/>
<line x1="296" y1="490" x2="290" y2="497" stroke="#a8a8a8" stroke-width="1.2"/>
<line x1="420" y1="470" x2="427" y2="474" stroke="#a8a8a8" stroke-width="1.2"/>
<line x1="414" y1="482" x2="421" y2="487" stroke="#a8a8a8" stroke-width="1.2"/>
<line x1="425" y1="448" x2="431" y2="446" stroke="#a8a8a8" stroke-width="1.2"/>
<line x1="280" y1="450" x2="274" y2="452" stroke="#a8a8a8" stroke-width="1.2"/>
<g clip-path="url(#cHi)"><g filter="url(#gr2)">
<rect x="342.3" y="358.4" width="101.7" height="66.9" fill="#a2a2a2"/>
<ellipse cx="358.9" cy="404.8" rx="9" ry="8" fill="#626262" filter="url(#b2)"/>
<ellipse cx="357.3" cy="363" rx="9" ry="6" fill="#262626" filter="url(#b1)"/>
<ellipse cx="419.1" cy="381.5" rx="7.5" ry="7" fill="#f4f4f4" filter="url(#b1)"/>
<ellipse cx="434" cy="392.7" rx="6.6" ry="6.6" fill="#dedede" stroke="#6a6a6a" stroke-width="1"/>
<ellipse cx="434" cy="393.2" rx="3.2" ry="2.6" fill="#909090" filter="url(#b1)"/>
<ellipse cx="428" cy="366.2" rx="9" ry="4" fill="#eeeeee" transform="rotate(-25 428 366.2)" filter="url(#b1)"/>
<ellipse cx="438" cy="362" rx="5" ry="3" fill="#e6e6e6" filter="url(#b1)"/>
<ellipse cx="432.7" cy="420.8" rx="6" ry="4" fill="#eaeaea" filter="url(#b1)"/>
<ellipse cx="440" cy="409" rx="4" ry="7" fill="#dadada" filter="url(#b1)"/>
<ellipse cx="419.1" cy="409.6" rx="8" ry="8" fill="#c4c4c4" filter="url(#b1)"/>
<ellipse cx="419.1" cy="409.6" rx="4.6" ry="4.6" fill="#2e2e2e" filter="url(#b1)"/>
<ellipse cx="411.4" cy="393.5" rx="2.6" ry="2.6" fill="#262626" filter="url(#b1)"/>
</g>
<ellipse cx="384.9" cy="370.7" rx="9.9" ry="8.9" fill="#7a7a7a" transform="rotate(30 384.9 370.7)" filter="url(#b1)"/>
<ellipse cx="384.9" cy="370.7" rx="8.3" ry="7.3" fill="#222" transform="rotate(30 384.9 370.7)" filter="url(#b1)"/>
<ellipse cx="390.2" cy="391.1" rx="11.9" ry="7.9" fill="#7a7a7a" transform="rotate(30 390.2 391.1)" filter="url(#b1)"/>
<ellipse cx="390.2" cy="391.1" rx="10.3" ry="6.3" fill="#262626" transform="rotate(30 390.2 391.1)" filter="url(#b1)"/>
<ellipse cx="399.8" cy="413.6" rx="12.5" ry="8.9" fill="#7a7a7a" transform="rotate(40 399.8 413.6)" filter="url(#b1)"/>
<ellipse cx="399.8" cy="413.6" rx="10.9" ry="7.3" fill="#222" transform="rotate(40 399.8 413.6)" filter="url(#b1)"/>
</g>
<rect x="342.3" y="358.4" width="101.7" height="66.9" fill="none" stroke="#111" stroke-width="0.8"/>
<rect x="313.7" y="390" width="20.3" height="19" fill="none" stroke="#111" stroke-width="0.7"/>
<line x1="334" y1="390" x2="342.3" y2="358.4" stroke="#111" stroke-width="0.6"/>
<line x1="334" y1="409" x2="342.3" y2="425.3" stroke="#111" stroke-width="0.6"/>
<line x1="422" y1="505.2" x2="441.5" y2="505.2" stroke="#fff" stroke-width="1.6"/>
</g>
<text transform="translate(469.1 352.3) scale(1 1)" font-size="18.3" font-weight="bold">I</text>
<text x="562.8" y="353.2" font-size="10.7" text-anchor="middle" font-weight="bold">G243-1720</text>
<g clip-path="url(#cI)">
<linearGradient id="ibg" x1="0" x2="1" y1="0" y2="1"><stop offset="0.5" stop-color="#eeeeee"/><stop offset="1" stop-color="#dfdfdf"/></linearGradient>
<rect x="479.7" y="358.4" width="200" height="149.9" fill="url(#ibg)"/>
<g filter="url(#gr)">
<polygon points="479.7,358.4 679.7,358.4 679.7,425 611.4,426.5 611.4,432 610.7,454 606,463.3 604.5,477 598.4,486.3 593.8,494 589.2,508.3 479.7,508.3" fill="#c9c9c9"/>
<polygon points="590,428 611,428 610.5,454 605.5,463.3 604,477 598,486 593,494 589,508 575,508 580,480 584,455" fill="#d9d9d9" filter="url(#b2)"/>
<polygon points="479.7,358.4 546,358.4 540,368 528,376 512,378 497,374 486,380 479.7,378" fill="#a4a4a4"/>
<polygon points="479.7,448 498,440 520,458 540,478 552,492 556,508.3 479.7,508.3" fill="#bdbdbd"/>
<path d="M500.5,440.8 Q528,462 551.6,490" fill="none" stroke="#8a8a8a" stroke-width="0.9"/>
<ellipse cx="492.3" cy="387.8" rx="11" ry="6.05" fill="#f1f1f1" transform="rotate(-25 492.3 387.8)" stroke="#9a9a9a" stroke-width="0.5"/>
<ellipse cx="523.4" cy="388.8" rx="9.35" ry="5.5" fill="#f1f1f1" transform="rotate(-40 523.4 388.8)" stroke="#9a9a9a" stroke-width="0.5"/>
<ellipse cx="539.8" cy="380.5" rx="4.4" ry="4.4" fill="#f1f1f1" stroke="#9a9a9a" stroke-width="0.5"/>
<ellipse cx="493.2" cy="418" rx="6.05" ry="8.8" fill="#f1f1f1" transform="rotate(10 493.2 418)" stroke="#9a9a9a" stroke-width="0.5"/>
<ellipse cx="509.7" cy="418.9" rx="6.6" ry="4.4" fill="#f1f1f1" stroke="#9a9a9a" stroke-width="0.5"/>
<ellipse cx="539.8" cy="415.2" rx="8.8" ry="4.84" fill="#f1f1f1" transform="rotate(30 539.8 415.2)" stroke="#9a9a9a" stroke-width="0.5"/>
<ellipse cx="511.5" cy="398.8" rx="4.4" ry="5.5" fill="#f1f1f1" stroke="#9a9a9a" stroke-width="0.5"/>
<ellipse cx="532.5" cy="444.4" rx="9.46" ry="8.36" fill="#f1f1f1" stroke="#9a9a9a" stroke-width="0.5"/>
<ellipse cx="518.8" cy="429.8" rx="5.5" ry="4.4" fill="#f1f1f1" stroke="#9a9a9a" stroke-width="0.5"/>
<ellipse cx="553.5" cy="471.8" rx="6.6" ry="5.5" fill="#f1f1f1" stroke="#9a9a9a" stroke-width="0.5"/>
<ellipse cx="504.2" cy="457.2" rx="3.3" ry="3.3" fill="#f1f1f1" stroke="#9a9a9a" stroke-width="0.5"/>
<ellipse cx="573.5" cy="462.7" rx="5.5" ry="5.5" fill="#f1f1f1" stroke="#9a9a9a" stroke-width="0.5"/>
<ellipse cx="548" cy="437" rx="3.3" ry="5.5" fill="#f1f1f1" stroke="#9a9a9a" stroke-width="0.5"/>
<ellipse cx="511.5" cy="501" rx="5.5" ry="3.3" fill="#f1f1f1" stroke="#9a9a9a" stroke-width="0.5"/>
<ellipse cx="483.2" cy="471.8" rx="3.3" ry="4.4" fill="#f1f1f1" stroke="#9a9a9a" stroke-width="0.5"/>
<ellipse cx="486" cy="398" rx="4.4" ry="7.7" fill="#f1f1f1" stroke="#9a9a9a" stroke-width="0.5"/>
<ellipse cx="566" cy="450" rx="4.4" ry="3.3" fill="#f1f1f1" stroke="#9a9a9a" stroke-width="0.5"/>
<ellipse cx="600" cy="470" rx="5.5" ry="4.4" fill="#f1f1f1" stroke="#9a9a9a" stroke-width="0.5"/>
<ellipse cx="592" cy="438" rx="5.5" ry="3.3" fill="#f1f1f1" stroke="#9a9a9a" stroke-width="0.5"/>
<ellipse cx="540" cy="500" rx="4.4" ry="3.3" fill="#f1f1f1" stroke="#9a9a9a" stroke-width="0.5"/>
<ellipse cx="488" cy="440" rx="4.4" ry="3.3" fill="#f1f1f1" stroke="#9a9a9a" stroke-width="0.5"/>
<ellipse cx="575" cy="488" rx="4.4" ry="3.3" fill="#f1f1f1" stroke="#9a9a9a" stroke-width="0.5"/>
<ellipse cx="571.5" cy="397.4" rx="27.2" ry="27" fill="#cfcfcf" stroke="#353535" stroke-width="1.9"/>
<ellipse cx="504.2" cy="398.8" rx="2.6" ry="2.86" fill="#3c3c3c"/>
<ellipse cx="519.7" cy="406" rx="2.8" ry="3.08" fill="#3c3c3c"/>
<ellipse cx="517" cy="414.3" rx="2.6" ry="2.86" fill="#3c3c3c"/>
<ellipse cx="499.6" cy="408.8" rx="2.4" ry="2.64" fill="#3c3c3c"/>
<ellipse cx="496.5" cy="428" rx="2.8" ry="3.08" fill="#3c3c3c"/>
<ellipse cx="514.2" cy="427.6" rx="2.8" ry="3.08" fill="#3c3c3c"/>
<ellipse cx="525.2" cy="425.3" rx="2.6" ry="2.86" fill="#3c3c3c"/>
<ellipse cx="511.5" cy="438" rx="2.6" ry="2.86" fill="#3c3c3c"/>
<ellipse cx="532.5" cy="434.4" rx="2" ry="2.2" fill="#3c3c3c"/>
<ellipse cx="544.3" cy="427" rx="2.4" ry="2.64" fill="#3c3c3c"/>
<ellipse cx="554.4" cy="433.5" rx="2.6" ry="2.86" fill="#3c3c3c"/>
<ellipse cx="533.4" cy="388.8" rx="2" ry="2.2" fill="#3c3c3c"/>
<ellipse cx="539.8" cy="480" rx="2.4" ry="2.64" fill="#3c3c3c"/>
<ellipse cx="569" cy="481" rx="2.8" ry="3.08" fill="#3c3c3c"/>
<ellipse cx="520.6" cy="476.4" rx="2" ry="2.2" fill="#3c3c3c"/>
<ellipse cx="582.7" cy="495.5" rx="3" ry="3.3" fill="#3c3c3c"/>
<ellipse cx="595.3" cy="466.4" rx="2.8" ry="3.08" fill="#3c3c3c"/>
<ellipse cx="503" cy="383" rx="1.8" ry="1.98" fill="#3c3c3c"/>
<ellipse cx="598.4" cy="494" rx="2" ry="2.2" fill="#3c3c3c"/>
<ellipse cx="615.3" cy="472.5" rx="2.6" ry="2.86" fill="#3c3c3c"/>
<ellipse cx="528" cy="373.2" rx="1.3" ry="1.3" fill="#0c0c0c"/>
<ellipse cx="498.7" cy="373.2" rx="1.3" ry="1.3" fill="#0c0c0c"/>
<ellipse cx="503" cy="369" rx="1.3" ry="1.3" fill="#0c0c0c"/>
<ellipse cx="510" cy="364" rx="1.3" ry="1.3" fill="#0c0c0c"/>
<ellipse cx="520" cy="362" rx="1.3" ry="1.3" fill="#0c0c0c"/>
<ellipse cx="530" cy="366" rx="1.3" ry="1.3" fill="#0c0c0c"/>
<ellipse cx="483" cy="362" rx="1.3" ry="1.3" fill="#0c0c0c"/>
<ellipse cx="573" cy="440" rx="1.3" ry="1.3" fill="#0c0c0c"/>
<ellipse cx="576" cy="443" rx="1.3" ry="1.3" fill="#0c0c0c"/>
<ellipse cx="571" cy="445" rx="1.3" ry="1.3" fill="#0c0c0c"/>
<ellipse cx="578" cy="447" rx="1.3" ry="1.3" fill="#0c0c0c"/>
<ellipse cx="574" cy="449" rx="1.3" ry="1.3" fill="#0c0c0c"/>
<ellipse cx="580" cy="441" rx="1.3" ry="1.3" fill="#0c0c0c"/>
<ellipse cx="577" cy="438" rx="1.3" ry="1.3" fill="#0c0c0c"/>
<ellipse cx="570" cy="437" rx="1.3" ry="1.3" fill="#0c0c0c"/>
<ellipse cx="590" cy="447" rx="1.3" ry="1.3" fill="#0c0c0c"/>
<ellipse cx="592" cy="450" rx="1.3" ry="1.3" fill="#0c0c0c"/>
<ellipse cx="588" cy="451" rx="1.3" ry="1.3" fill="#0c0c0c"/>
<ellipse cx="594" cy="446" rx="1.3" ry="1.3" fill="#0c0c0c"/>
<ellipse cx="591" cy="444" rx="1.3" ry="1.3" fill="#0c0c0c"/>
<ellipse cx="553" cy="505" rx="1.3" ry="1.3" fill="#0c0c0c"/>
<ellipse cx="556" cy="503" rx="1.3" ry="1.3" fill="#0c0c0c"/>
<ellipse cx="551" cy="503" rx="1.3" ry="1.3" fill="#0c0c0c"/>
<ellipse cx="555" cy="506.5" rx="1.3" ry="1.3" fill="#0c0c0c"/>
<ellipse cx="558" cy="505" rx="1.3" ry="1.3" fill="#0c0c0c"/>
</g>
<g clip-path="url(#cIi)"><g filter="url(#gr2)">
<rect x="579.7" y="358.4" width="100" height="66.6" fill="#e9e9e9"/>
<ellipse cx="581.4" cy="372.7" rx="10" ry="16" fill="#5a5a5a" filter="url(#b1)"/>
<ellipse cx="628" cy="364" rx="5" ry="3.75" fill="#7a7a7a" filter="url(#b2)"/>
<ellipse cx="650" cy="362" rx="4" ry="3" fill="#7a7a7a" filter="url(#b2)"/>
<ellipse cx="668" cy="398" rx="5" ry="3.75" fill="#7a7a7a" filter="url(#b2)"/>
<ellipse cx="662" cy="415" rx="5" ry="3.75" fill="#7a7a7a" filter="url(#b2)"/>
<ellipse cx="598" cy="385" rx="4" ry="3" fill="#7a7a7a" filter="url(#b2)"/>
<ellipse cx="625" cy="372" rx="3.4" ry="2.55" fill="#7a7a7a" filter="url(#b2)"/>
<ellipse cx="640" cy="372" rx="3" ry="2.25" fill="#7a7a7a" filter="url(#b2)"/>
<ellipse cx="592" cy="398" rx="3.4" ry="2.55" fill="#7a7a7a" filter="url(#b2)"/>
<ellipse cx="655" cy="420" rx="4" ry="3" fill="#7a7a7a" filter="url(#b2)"/>
<ellipse cx="672" cy="370" rx="3" ry="2.25" fill="#7a7a7a" filter="url(#b2)"/>
<ellipse cx="610" cy="365" rx="3" ry="2.25" fill="#7a7a7a" filter="url(#b2)"/>
<ellipse cx="632" cy="418" rx="3" ry="2.25" fill="#7a7a7a" filter="url(#b2)"/>
</g>
<ellipse cx="636" cy="387" rx="6.8" ry="6.8" fill="#555" filter="url(#b2)"/>
<ellipse cx="636" cy="388" rx="4" ry="4" fill="#3a3a3a" filter="url(#b1)"/>
<ellipse cx="613.5" cy="389.5" rx="10.7" ry="13.7" fill="#7a7a7a" transform="rotate(20 613.5 389.5)" filter="url(#b1)"/>
<ellipse cx="613.5" cy="389.5" rx="9.1" ry="12.1" fill="#242424" transform="rotate(20 613.5 389.5)" filter="url(#b1)"/>
<ellipse cx="614.5" cy="386" rx="2.6" ry="3.6" fill="#6c6c6c" transform="rotate(20 614.5 386)" filter="url(#b1)"/>
<ellipse cx="612" cy="393" rx="2.2" ry="2.6" fill="#626262" transform="rotate(20 612 393)" filter="url(#b1)"/>
<ellipse cx="660.9" cy="383.6" rx="13.3" ry="8.3" fill="#7a7a7a" transform="rotate(10 660.9 383.6)" filter="url(#b1)"/>
<ellipse cx="660.9" cy="383.6" rx="11.7" ry="6.7" fill="#222" transform="rotate(10 660.9 383.6)" filter="url(#b1)"/>
<ellipse cx="644.4" cy="404.8" rx="9.7" ry="13.7" fill="#7a7a7a" transform="rotate(35 644.4 404.8)" filter="url(#b1)"/>
<ellipse cx="644.4" cy="404.8" rx="8.1" ry="12.1" fill="#222" transform="rotate(35 644.4 404.8)" filter="url(#b1)"/>
<ellipse cx="601.5" cy="408.8" rx="12.3" ry="8.7" fill="#7a7a7a" transform="rotate(5 601.5 408.8)" filter="url(#b1)"/>
<ellipse cx="601.5" cy="408.8" rx="10.7" ry="7.1" fill="#282828" transform="rotate(5 601.5 408.8)" filter="url(#b1)"/>
<ellipse cx="624" cy="413.6" rx="6.3" ry="11.3" fill="#7a7a7a" transform="rotate(-40 624 413.6)" filter="url(#b1)"/>
<ellipse cx="624" cy="413.6" rx="4.7" ry="9.7" fill="#303030" transform="rotate(-40 624 413.6)" filter="url(#b1)"/>
<ellipse cx="609.5" cy="423" rx="8.9" ry="4.9" fill="#7a7a7a" filter="url(#b1)"/>
<ellipse cx="609.5" cy="423" rx="7.3" ry="3.3" fill="#2c2c2c" filter="url(#b1)"/>
<ellipse cx="589.5" cy="424" rx="7.9" ry="3.9" fill="#7a7a7a" filter="url(#b1)"/>
<ellipse cx="589.5" cy="424" rx="6.3" ry="2.3" fill="#333" filter="url(#b1)"/>
</g>
<rect x="579.7" y="358.4" width="100" height="66.6" fill="none" stroke="#111" stroke-width="0.8"/>
<rect x="566" y="433.3" width="22" height="20" fill="none" stroke="#111" stroke-width="0.7"/>
<line x1="579.7" y1="425" x2="566" y2="433.3" stroke="#111" stroke-width="0.6"/>
<line x1="679.7" y1="425" x2="588" y2="433.3" stroke="#111" stroke-width="0.6"/>
<line x1="659.3" y1="505.4" x2="678.4" y2="505.4" stroke="#fff" stroke-width="1.6"/>
</g>
<text transform="translate(3.9 537.3) scale(1 1)" font-size="18.3" font-weight="bold">J</text>
<text x="112.6" y="541.6" font-size="9.6" font-weight="bold">VACV</text>
<line x1="39" y1="629.2" x2="212" y2="629.2" stroke="#111" stroke-width="0.8" stroke-dasharray="1 1"/>
<path d="M43.4 648.6V620.99H51.6V648.6" fill="#fff" stroke="#1a1a1a" stroke-width="0.7"/>
<path d="M55.4 648.6V622.03H63.6V648.6" fill="#fff" stroke="#1a1a1a" stroke-width="0.7"/>
<path d="M67.4 648.6V626.02H75.6V648.6" fill="#fff" stroke="#1a1a1a" stroke-width="0.7"/>
<path d="M87.4 648.6V598.94H95.6V648.6" fill="#fff" stroke="#1a1a1a" stroke-width="0.7"/>
<path d="M99.4 648.6V597H107.6V648.6" fill="#fff" stroke="#1a1a1a" stroke-width="0.7"/>
<path d="M111.4 648.6V600.35H119.6V648.6" fill="#fff" stroke="#1a1a1a" stroke-width="0.7"/>
<path d="M131.4 648.6V576.62H139.6V648.6" fill="#fff" stroke="#1a1a1a" stroke-width="0.7"/>
<path d="M143.4 648.6V595.07H151.6V648.6" fill="#fff" stroke="#1a1a1a" stroke-width="0.7"/>
<path d="M155.4 648.6V593.13H163.6V648.6" fill="#fff" stroke="#1a1a1a" stroke-width="0.7"/>
<path d="M175.4 648.6V574.04H183.6V648.6" fill="#fff" stroke="#1a1a1a" stroke-width="0.7"/>
<path d="M187.4 648.6V587.97H195.6V648.6" fill="#fff" stroke="#1a1a1a" stroke-width="0.7"/>
<path d="M199.4 648.6V587.33H207.6V648.6" fill="#fff" stroke="#1a1a1a" stroke-width="0.7"/>
<path d="M47.5 619V626.6M45.3 619H49.7M45.3 626.6H49.7" fill="none" stroke="#222" stroke-width="0.6"/>
<path d="M59.5 617V629M57.3 617H61.7M57.3 629H61.7" fill="none" stroke="#222" stroke-width="0.6"/>
<path d="M71.5 624.6V626.4M69.3 624.6H73.7M69.3 626.4H73.7" fill="none" stroke="#222" stroke-width="0.6"/>
<path d="M91.5 595.6V601.6M89.3 595.6H93.7M89.3 601.6H93.7" fill="none" stroke="#222" stroke-width="0.6"/>
<path d="M103.5 594V604M101.3 594H105.7M101.3 604H105.7" fill="none" stroke="#222" stroke-width="0.6"/>
<path d="M115.5 596.8V600.4M113.3 596.8H117.7M113.3 600.4H117.7" fill="none" stroke="#222" stroke-width="0.6"/>
<path d="M135.5 575.6V577.6M133.3 575.6H137.7M133.3 577.6H137.7" fill="none" stroke="#222" stroke-width="0.6"/>
<path d="M147.5 593.6V596.4M145.3 593.6H149.7M145.3 596.4H149.7" fill="none" stroke="#222" stroke-width="0.6"/>
<path d="M159.5 590.6V595M157.3 590.6H161.7M157.3 595H161.7" fill="none" stroke="#222" stroke-width="0.6"/>
<path d="M179.5 573.4V574.8M177.3 573.4H181.7M177.3 574.8H181.7" fill="none" stroke="#222" stroke-width="0.6"/>
<path d="M191.5 586.4V589.6M189.3 586.4H193.7M189.3 589.6H193.7" fill="none" stroke="#222" stroke-width="0.6"/>
<path d="M203.5 586V588.6M201.3 586H205.7M201.3 588.6H205.7" fill="none" stroke="#222" stroke-width="0.6"/>
<circle cx="45.6" cy="621" r="2" fill="#a6a6a6" stroke="#111" stroke-width="0.7"/>
<circle cx="49.6" cy="621.6" r="2" fill="#a6a6a6" stroke="#111" stroke-width="0.7"/>
<circle cx="47.4" cy="627.4" r="2" fill="#a6a6a6" stroke="#111" stroke-width="0.7"/>
<rect x="57.4" y="616" width="4" height="4" fill="#f7941d" stroke="#111" stroke-width="0.7"/>
<rect x="57.4" y="620" width="4" height="4" fill="#f7941d" stroke="#111" stroke-width="0.7"/>
<rect x="57.4" y="627.4" width="4" height="4" fill="#f7941d" stroke="#111" stroke-width="0.7"/>
<polygon points="69.6,623.22 67.4,627.18 71.8,627.18" fill="#10c030" stroke="#111" stroke-width="0.7"/>
<polygon points="73.2,623.22 71,627.18 75.4,627.18" fill="#10c030" stroke="#111" stroke-width="0.7"/>
<polygon points="71.4,622.22 69.2,626.18 73.6,626.18" fill="#10c030" stroke="#111" stroke-width="0.7"/>
<circle cx="89.4" cy="596" r="2" fill="#a6a6a6" stroke="#111" stroke-width="0.7"/>
<circle cx="93.4" cy="598.4" r="2" fill="#a6a6a6" stroke="#111" stroke-width="0.7"/>
<circle cx="89.4" cy="601.4" r="2" fill="#a6a6a6" stroke="#111" stroke-width="0.7"/>
<circle cx="93" cy="600.4" r="2" fill="#a6a6a6" stroke="#111" stroke-width="0.7"/>
<rect x="99.8" y="592.6" width="4" height="4" fill="#f7941d" stroke="#111" stroke-width="0.7"/>
<rect x="103.6" y="595.4" width="4" height="4" fill="#f7941d" stroke="#111" stroke-width="0.7"/>
<rect x="101.6" y="602.4" width="4" height="4" fill="#f7941d" stroke="#111" stroke-width="0.7"/>
<polygon points="114,596.22 111.8,600.18 116.2,600.18" fill="#10c030" stroke="#111" stroke-width="0.7"/>
<polygon points="117.4,595.82 115.2,599.78 119.6,599.78" fill="#10c030" stroke="#111" stroke-width="0.7"/>
<polygon points="115.6,594.62 113.4,598.58 117.8,598.58" fill="#10c030" stroke="#111" stroke-width="0.7"/>
<circle cx="133.6" cy="577.2" r="2" fill="#a6a6a6" stroke="#111" stroke-width="0.7"/>
<circle cx="135.6" cy="576" r="2" fill="#a6a6a6" stroke="#111" stroke-width="0.7"/>
<circle cx="137.6" cy="577" r="2" fill="#a6a6a6" stroke="#111" stroke-width="0.7"/>
<rect x="143.6" y="593.6" width="4" height="4" fill="#f7941d" stroke="#111" stroke-width="0.7"/>
<rect x="146.6" y="591.6" width="4" height="4" fill="#f7941d" stroke="#111" stroke-width="0.7"/>
<rect x="144.6" y="592.6" width="4" height="4" fill="#f7941d" stroke="#111" stroke-width="0.7"/>
<polygon points="157.6,591.02 155.4,594.98 159.8,594.98" fill="#10c030" stroke="#111" stroke-width="0.7"/>
<polygon points="161.4,591.22 159.2,595.18 163.6,595.18" fill="#10c030" stroke="#111" stroke-width="0.7"/>
<polygon points="159.6,588.02 157.4,591.98 161.8,591.98" fill="#10c030" stroke="#111" stroke-width="0.7"/>
<circle cx="177.8" cy="574.2" r="2" fill="#a6a6a6" stroke="#111" stroke-width="0.7"/>
<circle cx="179.6" cy="573.6" r="2" fill="#a6a6a6" stroke="#111" stroke-width="0.7"/>
<circle cx="181.4" cy="574.2" r="2" fill="#a6a6a6" stroke="#111" stroke-width="0.7"/>
<rect x="187.8" y="587.4" width="4" height="4" fill="#f7941d" stroke="#111" stroke-width="0.7"/>
<rect x="190.6" y="585.4" width="4" height="4" fill="#f7941d" stroke="#111" stroke-width="0.7"/>
<rect x="189" y="584.2" width="4" height="4" fill="#f7941d" stroke="#111" stroke-width="0.7"/>
<polygon points="201.8,586.22 199.6,590.18 204,590.18" fill="#10c030" stroke="#111" stroke-width="0.7"/>
<polygon points="205,585.42 202.8,589.38 207.2,589.38" fill="#10c030" stroke="#111" stroke-width="0.7"/>
<polygon points="203.4,584.22 201.2,588.18 205.6,588.18" fill="#10c030" stroke="#111" stroke-width="0.7"/>
<line x1="39" y1="544.73" x2="39" y2="649.27" stroke="#000" stroke-width="1.35"/>
<line x1="34.8" y1="648.6" x2="39" y2="648.6" stroke="#000" stroke-width="1.35"/>
<text x="33.2" y="651.59" font-size="8.3" text-anchor="end" font-weight="bold">0</text>
<line x1="34.8" y1="622.8" x2="39" y2="622.8" stroke="#000" stroke-width="1.35"/>
<text x="33.2" y="625.79" font-size="8.3" text-anchor="end" font-weight="bold">2</text>
<line x1="34.8" y1="597" x2="39" y2="597" stroke="#000" stroke-width="1.35"/>
<text x="33.2" y="599.99" font-size="8.3" text-anchor="end" font-weight="bold">4</text>
<line x1="34.8" y1="571.2" x2="39" y2="571.2" stroke="#000" stroke-width="1.35"/>
<text x="33.2" y="574.19" font-size="8.3" text-anchor="end" font-weight="bold">6</text>
<line x1="34.8" y1="545.4" x2="39" y2="545.4" stroke="#000" stroke-width="1.35"/>
<text x="33.2" y="548.39" font-size="8.3" text-anchor="end" font-weight="bold">8</text>
<line x1="36.48" y1="635.7" x2="39" y2="635.7" stroke="#000" stroke-width="1.35"/>
<line x1="36.48" y1="609.9" x2="39" y2="609.9" stroke="#000" stroke-width="1.35"/>
<line x1="36.48" y1="584.1" x2="39" y2="584.1" stroke="#000" stroke-width="1.35"/>
<line x1="36.48" y1="558.3" x2="39" y2="558.3" stroke="#000" stroke-width="1.35"/>
<line x1="38.5" y1="648.6" x2="212" y2="648.6" stroke="#000" stroke-width="1.35"/>
<line x1="59.5" y1="648.6" x2="59.5" y2="652.8" stroke="#000" stroke-width="1.35"/>
<line x1="103.5" y1="648.6" x2="103.5" y2="652.8" stroke="#000" stroke-width="1.35"/>
<line x1="147.5" y1="648.6" x2="147.5" y2="652.8" stroke="#000" stroke-width="1.35"/>
<line x1="191.5" y1="648.6" x2="191.5" y2="652.8" stroke="#000" stroke-width="1.35"/>
<text x="59.5" y="662.2" font-size="8.3" text-anchor="middle" font-weight="bold">0</text>
<text x="103.5" y="662.2" font-size="8.3" text-anchor="middle" font-weight="bold">12</text>
<text x="147.5" y="662.2" font-size="8.3" text-anchor="middle" font-weight="bold">24</text>
<text x="191.5" y="662.2" font-size="8.3" text-anchor="middle" font-weight="bold">36</text>
<text x="125.7" y="673.8" font-size="8.3" text-anchor="middle" font-weight="bold">Hours post-infection</text>
<text x="22.8" y="597" font-size="8.3" font-weight="bold" text-anchor="middle" transform="rotate(-90 22.8 597)">Titers of IMVs (log<tspan font-size="5.64" dy="2">10</tspan><tspan dy="-2">FFU/mL)</tspan></text>
<line x1="47" y1="592.4" x2="71.6" y2="592.4" stroke="#000" stroke-width="1.3"/>
<text x="59.6" y="588" font-size="7.2" text-anchor="middle" font-weight="bold">ns</text>
<line x1="47" y1="604.4" x2="59.6" y2="604.4" stroke="#000" stroke-width="1.3"/>
<text x="53" y="599.6" font-size="7.2" text-anchor="middle" font-weight="bold">ns</text>
<line x1="59.4" y1="615" x2="71" y2="615" stroke="#000" stroke-width="1.3"/>
<text x="65" y="610.2" font-size="7.2" text-anchor="middle" font-weight="bold">ns</text>
<line x1="91.4" y1="565" x2="116" y2="565" stroke="#000" stroke-width="1.3"/>
<text x="104" y="560" font-size="7.2" text-anchor="middle" font-weight="bold">ns</text>
<line x1="91.4" y1="577" x2="104" y2="577" stroke="#000" stroke-width="1.3"/>
<text x="98" y="572.2" font-size="7.2" text-anchor="middle" font-weight="bold">ns</text>
<line x1="103.4" y1="590.4" x2="115.6" y2="590.4" stroke="#000" stroke-width="1.3"/>
<text x="109.4" y="585.8" font-size="7.2" text-anchor="middle" font-weight="bold">ns</text>
<text x="138.6" y="552.4" font-size="5.8"><tspan font-style="italic">P</tspan>&lt;0.0001</text>
<text x="148.4" y="562.6" font-size="10.2" text-anchor="middle" font-weight="bold" stroke="#000" stroke-width="0.4">****</text>
<line x1="136" y1="561.6" x2="160.6" y2="561.6" stroke="#000" stroke-width="1.3"/>
<text x="134" y="573.6" font-size="10.2" font-weight="bold" stroke="#000" stroke-width="0.4">****</text>
<text x="151" y="570" font-size="5.8"><tspan font-style="italic">P</tspan>&lt;0.0001</text>
<line x1="135.6" y1="572.6" x2="149" y2="572.6" stroke="#000" stroke-width="1.3"/>
<text x="154" y="579.2" font-size="7.2" text-anchor="middle" font-weight="bold">ns</text>
<line x1="148" y1="583.6" x2="160" y2="583.6" stroke="#000" stroke-width="1.3"/>
<text x="179" y="547" font-size="5.8"><tspan font-style="italic">P</tspan>&lt;0.0001</text>
<text x="192" y="557.8" font-size="10.2" text-anchor="middle" font-weight="bold" stroke="#000" stroke-width="0.4">****</text>
<line x1="179.4" y1="557" x2="204" y2="557" stroke="#000" stroke-width="1.3"/>
<text x="178" y="569.2" font-size="10.2" font-weight="bold" stroke="#000" stroke-width="0.4">****</text>
<text x="195.6" y="565.4" font-size="5.8"><tspan font-style="italic">P</tspan>&lt;0.0001</text>
<line x1="179.4" y1="568.4" x2="192.4" y2="568.4" stroke="#000" stroke-width="1.3"/>
<text x="197.4" y="575.6" font-size="7.2" text-anchor="middle" font-weight="bold">ns</text>
<line x1="191" y1="580.4" x2="203.6" y2="580.4" stroke="#000" stroke-width="1.3"/>
<circle cx="217" cy="601" r="2" fill="#a6a6a6" stroke="#111" stroke-width="0.7"/>
<text x="229" y="604" font-size="8.2" font-weight="bold">DMSO</text>
<rect x="214.9" y="612.9" width="4.2" height="4.2" fill="#f7941d" stroke="#111" stroke-width="0.7"/>
<text x="229" y="618" font-size="8.2" font-weight="bold">Tecovirimat</text>
<polygon points="217,626.82 214.8,630.78 219.2,630.78" fill="#10c030" stroke="#111" stroke-width="0.7"/>
<text x="229" y="632" font-size="8.2" font-weight="bold">G243-1720</text>
<text transform="translate(296.8 537.2) scale(1 1)" font-size="18.3" font-weight="bold">K</text>
<text x="354" y="541.4" font-size="9.6" font-weight="bold">rdMPXV<tspan font-size="7.4" dy="-3.9"><tspan font-weight="normal">Δ</tspan>96,158</tspan></text>
<line x1="332" y1="629.4" x2="436" y2="629.4" stroke="#111" stroke-width="0.8" stroke-dasharray="1 1"/>
<path d="M337.4 648.9V584.13H347V648.9" fill="#fff" stroke="#1a1a1a" stroke-width="0.7"/>
<path d="M351.9 648.9V590.02H361.5V648.9" fill="#fff" stroke="#1a1a1a" stroke-width="0.7"/>
<path d="M366.4 648.9V590.02H376V648.9" fill="#fff" stroke="#1a1a1a" stroke-width="0.7"/>
<path d="M391.6 648.9V579.14H401.2V648.9" fill="#fff" stroke="#1a1a1a" stroke-width="0.7"/>
<path d="M406.1 648.9V582.34H415.7V648.9" fill="#fff" stroke="#1a1a1a" stroke-width="0.7"/>
<path d="M420.6 648.9V585.16H430.2V648.9" fill="#fff" stroke="#1a1a1a" stroke-width="0.7"/>
<path d="M342.2 582V586M339.8 582H344.6M339.8 586H344.6" fill="none" stroke="#222" stroke-width="0.6"/>
<path d="M356.7 587V592.6M354.3 587H359.1M354.3 592.6H359.1" fill="none" stroke="#222" stroke-width="0.6"/>
<path d="M371.2 588V591.6M368.8 588H373.6M368.8 591.6H373.6" fill="none" stroke="#222" stroke-width="0.6"/>
<path d="M396.4 577.6V580.6M394 577.6H398.8M394 580.6H398.8" fill="none" stroke="#222" stroke-width="0.6"/>
<path d="M410.9 580.6V583.6M408.5 580.6H413.3M408.5 583.6H413.3" fill="none" stroke="#222" stroke-width="0.6"/>
<path d="M425.4 583.6V586.4M423 583.6H427.8M423 586.4H427.8" fill="none" stroke="#222" stroke-width="0.6"/>
<circle cx="340" cy="584.6" r="2" fill="#a6a6a6" stroke="#111" stroke-width="0.7"/>
<circle cx="342.4" cy="582.6" r="2" fill="#a6a6a6" stroke="#111" stroke-width="0.7"/>
<circle cx="344.8" cy="584.6" r="2" fill="#a6a6a6" stroke="#111" stroke-width="0.7"/>
<rect x="351.6" y="589.6" width="4" height="4" fill="#f7941d" stroke="#111" stroke-width="0.7"/>
<rect x="354.8" y="587" width="4" height="4" fill="#f7941d" stroke="#111" stroke-width="0.7"/>
<rect x="357.6" y="588.6" width="4" height="4" fill="#f7941d" stroke="#111" stroke-width="0.7"/>
<polygon points="368.6,588.22 366.4,592.18 370.8,592.18" fill="#10c030" stroke="#111" stroke-width="0.7"/>
<polygon points="371.4,586.62 369.2,590.58 373.6,590.58" fill="#10c030" stroke="#111" stroke-width="0.7"/>
<polygon points="374.2,588.02 372,591.98 376.4,591.98" fill="#10c030" stroke="#111" stroke-width="0.7"/>
<circle cx="393.6" cy="579.4" r="2" fill="#a6a6a6" stroke="#111" stroke-width="0.7"/>
<circle cx="396.2" cy="577.6" r="2" fill="#a6a6a6" stroke="#111" stroke-width="0.7"/>
<circle cx="398.8" cy="579.4" r="2" fill="#a6a6a6" stroke="#111" stroke-width="0.7"/>
<rect x="406" y="580.4" width="4" height="4" fill="#f7941d" stroke="#111" stroke-width="0.7"/>
<rect x="408.6" y="579" width="4" height="4" fill="#f7941d" stroke="#111" stroke-width="0.7"/>
<rect x="411.4" y="580.6" width="4" height="4" fill="#f7941d" stroke="#111" stroke-width="0.7"/>
<polygon points="423,582.62 420.8,586.58 425.2,586.58" fill="#10c030" stroke="#111" stroke-width="0.7"/>
<polygon points="425.6,581.22 423.4,585.18 427.8,585.18" fill="#10c030" stroke="#111" stroke-width="0.7"/>
<polygon points="428.2,582.62 426,586.58 430.4,586.58" fill="#10c030" stroke="#111" stroke-width="0.7"/>
<line x1="332" y1="545.73" x2="332" y2="649.57" stroke="#000" stroke-width="1.35"/>
<line x1="327.8" y1="648.9" x2="332" y2="648.9" stroke="#000" stroke-width="1.35"/>
<text x="326.2" y="651.89" font-size="8.3" text-anchor="end" font-weight="bold">0</text>
<line x1="327.8" y1="623.3" x2="332" y2="623.3" stroke="#000" stroke-width="1.35"/>
<text x="326.2" y="626.29" font-size="8.3" text-anchor="end" font-weight="bold">2</text>
<line x1="327.8" y1="597.7" x2="332" y2="597.7" stroke="#000" stroke-width="1.35"/>
<text x="326.2" y="600.69" font-size="8.3" text-anchor="end" font-weight="bold">4</text>
<line x1="327.8" y1="572.1" x2="332" y2="572.1" stroke="#000" stroke-width="1.35"/>
<text x="326.2" y="575.09" font-size="8.3" text-anchor="end" font-weight="bold">6</text>
<line x1="327.8" y1="546.5" x2="332" y2="546.5" stroke="#000" stroke-width="1.35"/>
<text x="326.2" y="549.49" font-size="8.3" text-anchor="end" font-weight="bold">8</text>
<line x1="329.48" y1="636.1" x2="332" y2="636.1" stroke="#000" stroke-width="1.35"/>
<line x1="329.48" y1="610.5" x2="332" y2="610.5" stroke="#000" stroke-width="1.35"/>
<line x1="329.48" y1="584.9" x2="332" y2="584.9" stroke="#000" stroke-width="1.35"/>
<line x1="329.48" y1="559.3" x2="332" y2="559.3" stroke="#000" stroke-width="1.35"/>
<line x1="331.5" y1="648.9" x2="434.4" y2="648.9" stroke="#000" stroke-width="1.35"/>
<line x1="356.8" y1="648.9" x2="356.8" y2="653.1" stroke="#000" stroke-width="1.35"/>
<line x1="411" y1="648.9" x2="411" y2="653.1" stroke="#000" stroke-width="1.35"/>
<text x="357" y="662.2" font-size="8.3" text-anchor="middle" font-weight="bold">0.05</text>
<text x="410.8" y="662.2" font-size="8.3" text-anchor="middle" font-weight="bold">0.25</text>
<text x="383.8" y="674.6" font-size="8.3" text-anchor="middle" font-weight="bold">Dose of infection (MOI)</text>
<text x="315.2" y="597.5" font-size="8.3" font-weight="bold" text-anchor="middle" transform="rotate(-90 315.2 597.5)">Titers of IMVs (log<tspan font-size="5.64" dy="2">10</tspan><tspan dy="-2">FFU/mL)</tspan></text>
<text x="355" y="562" font-size="10.2" font-weight="bold" stroke="#000" stroke-width="0.4">*</text>
<text x="361" y="558" font-size="5.5"><tspan font-style="italic">P</tspan>=0.0139</text>
<line x1="341" y1="561" x2="372" y2="561" stroke="#000" stroke-width="1.3"/>
<text x="345.4" y="573.4" font-size="10.2" font-weight="bold" stroke="#000" stroke-width="0.4">**</text>
<text x="356" y="569.2" font-size="5.5"><tspan font-style="italic">P</tspan>=0.0079</text>
<line x1="341" y1="572.4" x2="357" y2="572.4" stroke="#000" stroke-width="1.3"/>
<text x="364.4" y="579.8" font-size="6.8" text-anchor="middle" font-weight="bold">ns</text>
<line x1="356.4" y1="584" x2="372.4" y2="584" stroke="#000" stroke-width="1.3"/>
<text x="407" y="557" font-size="10.2" font-weight="bold" stroke="#000" stroke-width="0.4">**</text>
<text x="417" y="553.2" font-size="5.5"><tspan font-style="italic">P</tspan>=0.0019</text>
<line x1="396" y1="556" x2="425.6" y2="556" stroke="#000" stroke-width="1.3"/>
<text x="399.6" y="568.4" font-size="10.2" font-weight="bold" stroke="#000" stroke-width="0.4">**</text>
<text x="409.4" y="564.6" font-size="5.5"><tspan font-style="italic">P</tspan>=0.0087</text>
<line x1="396" y1="567.4" x2="411" y2="567.4" stroke="#000" stroke-width="1.3"/>
<text x="418" y="573.2" font-size="6.8" text-anchor="middle" font-weight="bold">ns</text>
<line x1="410.6" y1="578" x2="426" y2="578" stroke="#000" stroke-width="1.3"/>
<circle cx="439.2" cy="602" r="1.8" fill="#a6a6a6" stroke="#111" stroke-width="0.7"/>
<text x="451.4" y="605" font-size="8.2" font-weight="bold">DMSO</text>
<rect x="437.1" y="613.5" width="4.2" height="4.2" fill="#f7941d" stroke="#111" stroke-width="0.7"/>
<text x="451.4" y="618.6" font-size="8.2" font-weight="bold">Tecovirimat</text>
<polygon points="439.2,627.82 437,631.78 441.4,631.78" fill="#10c030" stroke="#111" stroke-width="0.7"/>
<text x="451.4" y="633" font-size="8.2" font-weight="bold">G243-1720</text>
<text transform="translate(509.1 537.2) scale(1 1)" font-size="18.3" font-weight="bold">L</text>
<path d="M560 648.7V578.15H573.5V648.7" fill="#fff" stroke="#1a1a1a" stroke-width="0.7"/>
<path d="M566.8 573.17V583.13M564.2 573.17H569.4M564.2 583.13H569.4" fill="none" stroke="#222" stroke-width="0.6"/>
<circle cx="562.6" cy="572.6" r="2.1" fill="#a6a6a6" stroke="#111" stroke-width="0.7"/>
<circle cx="571.6" cy="577.2" r="2.1" fill="#a6a6a6" stroke="#111" stroke-width="0.7"/>
<circle cx="566.6" cy="581.6" r="2.1" fill="#a6a6a6" stroke="#111" stroke-width="0.7"/>
<path d="M587.2 646.6V649.6M584.8 646.6H589.6M584.8 649.6H589.6" fill="none" stroke="#222" stroke-width="0.6"/>
<path d="M608 645.6V649.8M605.6 645.6H610.4M605.6 649.8H610.4" fill="none" stroke="#222" stroke-width="0.6"/>
<rect x="580" y="646" width="4" height="4" fill="#f7941d" stroke="#111" stroke-width="0.7"/>
<rect x="584.6" y="645.2" width="4" height="4" fill="#f7941d" stroke="#111" stroke-width="0.7"/>
<rect x="590" y="646.2" width="4" height="4" fill="#f7941d" stroke="#111" stroke-width="0.7"/>
<polygon points="603,645.93 600.9,649.71 605.1,649.71" fill="#10c030" stroke="#111" stroke-width="0.7"/>
<polygon points="608,644.53 605.9,648.31 610.1,648.31" fill="#10c030" stroke="#111" stroke-width="0.7"/>
<polygon points="612.6,645.73 610.5,649.51 614.7,649.51" fill="#10c030" stroke="#111" stroke-width="0.7"/>
<line x1="552.6" y1="544.45" x2="552.6" y2="649.25" stroke="#000" stroke-width="1.1"/>
<line x1="548.4" y1="648.7" x2="552.6" y2="648.7" stroke="#000" stroke-width="1.1"/>
<text x="546.8" y="651.47" font-size="7.7" text-anchor="end" font-weight="bold">0</text>
<line x1="548.4" y1="627.95" x2="552.6" y2="627.95" stroke="#000" stroke-width="1.1"/>
<text x="546.8" y="630.72" font-size="7.7" text-anchor="end" font-weight="bold">50</text>
<line x1="548.4" y1="607.2" x2="552.6" y2="607.2" stroke="#000" stroke-width="1.1"/>
<text x="546.8" y="609.97" font-size="7.7" text-anchor="end" font-weight="bold">100</text>
<line x1="548.4" y1="586.45" x2="552.6" y2="586.45" stroke="#000" stroke-width="1.1"/>
<text x="546.8" y="589.22" font-size="7.7" text-anchor="end" font-weight="bold">150</text>
<line x1="548.4" y1="565.7" x2="552.6" y2="565.7" stroke="#000" stroke-width="1.1"/>
<text x="546.8" y="568.47" font-size="7.7" text-anchor="end" font-weight="bold">200</text>
<line x1="548.4" y1="544.95" x2="552.6" y2="544.95" stroke="#000" stroke-width="1.1"/>
<text x="546.8" y="547.72" font-size="7.7" text-anchor="end" font-weight="bold">250</text>
<line x1="552.1" y1="648.7" x2="620.7" y2="648.7" stroke="#000" stroke-width="1.1"/>
<line x1="566.7" y1="648.7" x2="566.7" y2="652.9" stroke="#000" stroke-width="1.1"/>
<line x1="587.2" y1="648.7" x2="587.2" y2="652.9" stroke="#000" stroke-width="1.1"/>
<line x1="608" y1="648.7" x2="608" y2="652.9" stroke="#000" stroke-width="1.1"/>
<text x="529" y="597.5" font-size="8.3" text-anchor="middle" transform="rotate(-90 529 597.5)" font-weight="bold">EEVs (plaque count)</text>
<text x="578.3" y="555.2" font-size="9.6" font-weight="bold" stroke="#000" stroke-width="0.4">****</text>
<text x="596" y="552.2" font-size="5.7"><tspan font-style="italic">P</tspan>&lt;0.0001</text>
<line x1="564" y1="554.3" x2="607.2" y2="554.3" stroke="#000" stroke-width="1.3"/>
<text x="569" y="567.4" font-size="9.6" font-weight="bold" stroke="#000" stroke-width="0.4">****</text>
<text x="587" y="564.4" font-size="5.7"><tspan font-style="italic">P</tspan>&lt;0.0001</text>
<line x1="564" y1="566.4" x2="587" y2="566.4" stroke="#000" stroke-width="1.3"/>
<text x="598.6" y="625" font-size="5.6" text-anchor="middle" font-weight="bold">ns</text>
<line x1="587.2" y1="630" x2="608.8" y2="630" stroke="#000" stroke-width="1.3"/>
<text x="569.1" y="658.3" font-size="8.3" text-anchor="end" transform="rotate(-45 569.1 658.3)" font-weight="bold">DMSO</text>
<text x="589.6" y="658.3" font-size="8.3" text-anchor="end" transform="rotate(-45 589.6 658.3)" font-weight="bold">Tecovirimat</text>
<text x="610.4" y="658.3" font-size="8.3" text-anchor="end" transform="rotate(-45 610.4 658.3)" font-weight="bold">G243-1720</text>
<circle cx="627.5" cy="554.6" r="1.8" fill="#a6a6a6" stroke="#111" stroke-width="0.7"/>
<text x="639" y="557.6" font-size="8.2" font-weight="bold">DMSO</text>
<rect x="625.4" y="565.7" width="4.2" height="4.2" fill="#f7941d" stroke="#111" stroke-width="0.7"/>
<text x="639" y="570.8" font-size="8.2" font-weight="bold">Tecovirimat</text>
<polygon points="627.5,578.62 625.3,582.58 629.7,582.58" fill="#10c030" stroke="#111" stroke-width="0.7"/>
<text x="639" y="583.8" font-size="8.2" font-weight="bold">G243-1720</text>
<text transform="translate(-1.4 704.7) scale(1 1)" font-size="18.3" font-weight="bold">M</text>
<text x="61.4" y="710.6" font-size="9.6" font-weight="bold">VACV</text>
<path d="M51.6 817.6V733.11H64V817.6" fill="#fff" stroke="#1a1a1a" stroke-width="0.7"/>
<path d="M69.4 817.6V769.5H81.8V817.6" fill="#fff" stroke="#1a1a1a" stroke-width="0.7"/>
<path d="M87.4 817.6V769.14H99.8V817.6" fill="#fff" stroke="#1a1a1a" stroke-width="0.7"/>
<path d="M57.8 731.6V734.4M55.2 731.6H60.4M55.2 734.4H60.4" fill="none" stroke="#222" stroke-width="0.6"/>
<path d="M75.6 766.4V771.6M73 766.4H78.2M73 771.6H78.2" fill="none" stroke="#222" stroke-width="0.6"/>
<path d="M93.6 765V772M91 765H96.2M91 772H96.2" fill="none" stroke="#222" stroke-width="0.6"/>
<circle cx="55.4" cy="733.2" r="2" fill="#a6a6a6" stroke="#111" stroke-width="0.7"/>
<circle cx="57.8" cy="732.4" r="2" fill="#a6a6a6" stroke="#111" stroke-width="0.7"/>
<circle cx="60.2" cy="733.2" r="2" fill="#a6a6a6" stroke="#111" stroke-width="0.7"/>
<circle cx="72" cy="770.2" r="2.1" fill="#f7941d" stroke="#111" stroke-width="0.7"/>
<circle cx="75.6" cy="767" r="2.1" fill="#f7941d" stroke="#111" stroke-width="0.7"/>
<circle cx="79.2" cy="770.2" r="2.1" fill="#f7941d" stroke="#111" stroke-width="0.7"/>
<circle cx="90" cy="769.8" r="2.1" fill="#0fb32a" stroke="#111" stroke-width="0.7"/>
<circle cx="93.6" cy="765.4" r="2.1" fill="#0fb32a" stroke="#111" stroke-width="0.7"/>
<circle cx="97.2" cy="769.8" r="2.1" fill="#0fb32a" stroke="#111" stroke-width="0.7"/>
<line x1="45" y1="710.33" x2="45" y2="818.27" stroke="#000" stroke-width="1.35"/>
<line x1="40.8" y1="817.6" x2="45" y2="817.6" stroke="#000" stroke-width="1.35"/>
<text x="39.2" y="820.59" font-size="8.3" text-anchor="end" font-weight="bold">0</text>
<line x1="40.8" y1="799.85" x2="45" y2="799.85" stroke="#000" stroke-width="1.35"/>
<text x="39.2" y="802.84" font-size="8.3" text-anchor="end" font-weight="bold">1</text>
<line x1="40.8" y1="782.1" x2="45" y2="782.1" stroke="#000" stroke-width="1.35"/>
<text x="39.2" y="785.09" font-size="8.3" text-anchor="end" font-weight="bold">2</text>
<line x1="40.8" y1="764.35" x2="45" y2="764.35" stroke="#000" stroke-width="1.35"/>
<text x="39.2" y="767.34" font-size="8.3" text-anchor="end" font-weight="bold">3</text>
<line x1="40.8" y1="746.6" x2="45" y2="746.6" stroke="#000" stroke-width="1.35"/>
<text x="39.2" y="749.59" font-size="8.3" text-anchor="end" font-weight="bold">4</text>
<line x1="40.8" y1="728.85" x2="45" y2="728.85" stroke="#000" stroke-width="1.35"/>
<text x="39.2" y="731.84" font-size="8.3" text-anchor="end" font-weight="bold">5</text>
<line x1="40.8" y1="711.1" x2="45" y2="711.1" stroke="#000" stroke-width="1.35"/>
<text x="39.2" y="714.09" font-size="8.3" text-anchor="end" font-weight="bold">6</text>
<line x1="44.5" y1="817.6" x2="105.4" y2="817.6" stroke="#000" stroke-width="1.35"/>
<line x1="57.4" y1="817.6" x2="57.4" y2="821.8" stroke="#000" stroke-width="1.35"/>
<line x1="75.4" y1="817.6" x2="75.4" y2="821.8" stroke="#000" stroke-width="1.35"/>
<line x1="93.4" y1="817.6" x2="93.4" y2="821.8" stroke="#000" stroke-width="1.35"/>
<text x="28" y="765" font-size="8.3" font-weight="bold" text-anchor="middle" transform="rotate(-90 28 765)">Plaque size (log<tspan font-size="5.64" dy="2">10</tspan><tspan dy="-2"> μm</tspan><tspan font-size="5.64" dy="-3">2</tspan><tspan dy="3">)</tspan></text>
<text x="66" y="737.4" font-size="6"><tspan font-style="italic">P</tspan>&lt;0.0001</text>
<text x="83" y="729.4" font-size="6"><tspan font-style="italic">P</tspan>&lt;0.0001</text>
<text x="81.1" y="762" font-size="10.2" transform="rotate(-90 81.1 762)" font-weight="bold" letter-spacing="1.3" stroke="#000" stroke-width="0.4">****</text>
<text x="98.9" y="759.6" font-size="10.2" transform="rotate(-90 98.9 759.6)" font-weight="bold" letter-spacing="1.3" stroke="#000" stroke-width="0.4">****</text>
<text x="60" y="827.2" font-size="8.6" text-anchor="end" transform="rotate(-47 60 827.2)" font-weight="bold">DMSO</text>
<text x="78" y="827.2" font-size="8.6" text-anchor="end" transform="rotate(-47 78 827.2)" font-weight="bold">Tecovirimat</text>
<text x="96" y="827.2" font-size="8.6" text-anchor="end" transform="rotate(-47 96 827.2)" font-weight="bold">G243-1720</text>
<text transform="translate(149.8 704.7) scale(1 1)" font-size="18.3" font-weight="bold">N</text>
<text x="196" y="707.6" font-size="9.6" font-weight="bold">rdMPXV<tspan font-size="7.4" dy="-3.9"><tspan font-weight="normal">Δ</tspan>96,158</tspan></text>
<path d="M202.4 818.6V742.45H214.8V818.6" fill="#fff" stroke="#1a1a1a" stroke-width="0.7"/>
<path d="M220.4 818.6V773.16H232.8V818.6" fill="#fff" stroke="#1a1a1a" stroke-width="0.7"/>
<path d="M238.4 818.6V772.63H250.8V818.6" fill="#fff" stroke="#1a1a1a" stroke-width="0.7"/>
<path d="M208.6 740.4V744M206 740.4H211.2M206 744H211.2" fill="none" stroke="#222" stroke-width="0.6"/>
<path d="M226.6 771.4V774.4M224 771.4H229.2M224 774.4H229.2" fill="none" stroke="#222" stroke-width="0.6"/>
<path d="M244.6 769.6V775M242 769.6H247.2M242 775H247.2" fill="none" stroke="#222" stroke-width="0.6"/>
<circle cx="205.4" cy="742.8" r="2" fill="#a6a6a6" stroke="#111" stroke-width="0.7"/>
<circle cx="208.6" cy="740.6" r="2" fill="#a6a6a6" stroke="#111" stroke-width="0.7"/>
<circle cx="211.8" cy="742.6" r="2" fill="#a6a6a6" stroke="#111" stroke-width="0.7"/>
<circle cx="223" cy="773.6" r="2.1" fill="#f7941d" stroke="#111" stroke-width="0.7"/>
<circle cx="226.6" cy="772.4" r="2.1" fill="#f7941d" stroke="#111" stroke-width="0.7"/>
<circle cx="230.2" cy="773.6" r="2.1" fill="#f7941d" stroke="#111" stroke-width="0.7"/>
<circle cx="241" cy="773.4" r="2.1" fill="#0fb32a" stroke="#111" stroke-width="0.7"/>
<circle cx="244.6" cy="770.4" r="2.1" fill="#0fb32a" stroke="#111" stroke-width="0.7"/>
<circle cx="248.2" cy="773.4" r="2.1" fill="#0fb32a" stroke="#111" stroke-width="0.7"/>
<line x1="196" y1="711.33" x2="196" y2="819.27" stroke="#000" stroke-width="1.35"/>
<line x1="191.8" y1="818.6" x2="196" y2="818.6" stroke="#000" stroke-width="1.35"/>
<text x="190.2" y="821.59" font-size="8.3" text-anchor="end" font-weight="bold">0</text>
<line x1="191.8" y1="800.85" x2="196" y2="800.85" stroke="#000" stroke-width="1.35"/>
<text x="190.2" y="803.84" font-size="8.3" text-anchor="end" font-weight="bold">1</text>
<line x1="191.8" y1="783.1" x2="196" y2="783.1" stroke="#000" stroke-width="1.35"/>
<text x="190.2" y="786.09" font-size="8.3" text-anchor="end" font-weight="bold">2</text>
<line x1="191.8" y1="765.35" x2="196" y2="765.35" stroke="#000" stroke-width="1.35"/>
<text x="190.2" y="768.34" font-size="8.3" text-anchor="end" font-weight="bold">3</text>
<line x1="191.8" y1="747.6" x2="196" y2="747.6" stroke="#000" stroke-width="1.35"/>
<text x="190.2" y="750.59" font-size="8.3" text-anchor="end" font-weight="bold">4</text>
<line x1="191.8" y1="729.85" x2="196" y2="729.85" stroke="#000" stroke-width="1.35"/>
<text x="190.2" y="732.84" font-size="8.3" text-anchor="end" font-weight="bold">5</text>
<line x1="191.8" y1="712.1" x2="196" y2="712.1" stroke="#000" stroke-width="1.35"/>
<text x="190.2" y="715.09" font-size="8.3" text-anchor="end" font-weight="bold">6</text>
<line x1="195.5" y1="818.6" x2="256.4" y2="818.6" stroke="#000" stroke-width="1.35"/>
<line x1="208.4" y1="818.6" x2="208.4" y2="822.8" stroke="#000" stroke-width="1.35"/>
<line x1="226.4" y1="818.6" x2="226.4" y2="822.8" stroke="#000" stroke-width="1.35"/>
<line x1="244.4" y1="818.6" x2="244.4" y2="822.8" stroke="#000" stroke-width="1.35"/>
<text x="179" y="766" font-size="8.3" font-weight="bold" text-anchor="middle" transform="rotate(-90 179 766)">Plaque size (log<tspan font-size="5.64" dy="2">10</tspan><tspan dy="-2"> μm</tspan><tspan font-size="5.64" dy="-3">2</tspan><tspan dy="3">)</tspan></text>
<text x="216" y="741" font-size="6"><tspan font-style="italic">P</tspan>&lt;0.0001</text>
<text x="234.4" y="732.6" font-size="6"><tspan font-style="italic">P</tspan>&lt;0.0001</text>
<text x="231.9" y="768" font-size="10.2" transform="rotate(-90 231.9 768)" font-weight="bold" letter-spacing="1.3" stroke="#000" stroke-width="0.4">****</text>
<text x="249.9" y="766" font-size="10.2" transform="rotate(-90 249.9 766)" font-weight="bold" letter-spacing="1.3" stroke="#000" stroke-width="0.4">****</text>
<text x="211" y="828.2" font-size="8.6" text-anchor="end" transform="rotate(-47 211 828.2)" font-weight="bold">DMSO</text>
<text x="229" y="828.2" font-size="8.6" text-anchor="end" transform="rotate(-47 229 828.2)" font-weight="bold">Tecovirimat</text>
<text x="247" y="828.2" font-size="8.6" text-anchor="end" transform="rotate(-47 247 828.2)" font-weight="bold">G243-1720</text>
<defs>
<filter id="gn" x="0" y="0" width="100%" height="100%" color-interpolation-filters="sRGB">
<feTurbulence type="fractalNoise" baseFrequency="0.7" numOctaves="2" seed="7" result="t"/>
<feColorMatrix in="t" type="matrix" values="0.07 0 0 0 0.455  0.07 0 0 0 0.455  0.07 0 0 0 0.455  0 0 0 0 1" result="g"/>
<feBlend in="g" in2="SourceGraphic" mode="hard-light" result="m"/>
<feComposite in="m" in2="SourceAlpha" operator="in"/>
</filter>
<filter id="pl" x="-30%" y="-30%" width="160%" height="160%" color-interpolation-filters="sRGB">
<feTurbulence type="fractalNoise" baseFrequency="0.5" numOctaves="2" seed="3" result="t"/>
<feColorMatrix in="t" type="matrix" values="0 0 0 0 0  0 0 0 0 0  0 0 0 0 0  4 0 0 0 -1.35" result="a"/>
<feGaussianBlur in="SourceGraphic" stdDeviation="1.4" result="b"/>
<feComposite in="b" in2="a" operator="in"/>
</filter>
<filter id="pl2" x="-30%" y="-30%" width="160%" height="160%" color-interpolation-filters="sRGB">
<feTurbulence type="fractalNoise" baseFrequency="0.6" numOctaves="2" seed="5" result="t"/>
<feColorMatrix in="t" type="matrix" values="0 0 0 0 0  0 0 0 0 0  0 0 0 0 0  4 0 0 0 -1.2" result="a"/>
<feGaussianBlur in="SourceGraphic" stdDeviation="0.7" result="b"/>
<feComposite in="b" in2="a" operator="in"/>
</filter>
<radialGradient id="g1" cx="0.45" cy="0.45" r="0.75"><stop offset="0" stop-color="#0f860f"/><stop offset="1" stop-color="#0a6a0a"/></radialGradient>
<radialGradient id="g2" cx="0.6" cy="0.65" r="0.85"><stop offset="0" stop-color="#108e10"/><stop offset="1" stop-color="#0a6e0a"/></radialGradient>
<radialGradient id="g4" cx="0.55" cy="0.6" r="0.9"><stop offset="0" stop-color="#13981a"/><stop offset="1" stop-color="#0e820f"/></radialGradient>
<radialGradient id="g3" cx="0.5" cy="0.5" r="0.8"><stop offset="0" stop-color="#086808"/><stop offset="1" stop-color="#065806"/></radialGradient>
</defs>
<text transform="translate(295.1 704.5) scale(1 1)" font-size="18.3" font-weight="bold">O</text>
<text x="373.4" y="707.9" font-size="10.7" text-anchor="middle" font-weight="bold">DMSO</text>
<text x="468.2" y="707.9" font-size="10.7" text-anchor="middle" font-weight="bold">G243-1720</text>
<text x="564.4" y="707.9" font-size="10.7" text-anchor="middle" font-weight="bold">Tecovirimat</text>
<text x="323.4" y="743" font-size="10.65" text-anchor="middle" transform="rotate(-90 323.4 743)" font-weight="bold">VACV</text>
<text x="323.2" y="820" font-size="10.65" font-weight="bold" text-anchor="middle" transform="rotate(-90 323.2 820)">rdMPXV<tspan font-size="8.2" dy="-5"><tspan font-weight="normal">Δ</tspan>96,158</tspan></text>
<g filter="url(#gn)">
<rect x="325.8" y="711.6" width="94.9" height="70.2" fill="url(#g1)"/>
<rect x="423" y="711.6" width="94.9" height="70.2" fill="url(#g2)"/>
<rect x="520.4" y="711.6" width="94.9" height="70.2" fill="url(#g3)"/>
<rect x="325.8" y="784.8" width="94.9" height="70.9" fill="url(#g1)"/>
<rect x="423" y="784.8" width="94.9" height="70.9" fill="url(#g4)"/>
<rect x="520.4" y="784.8" width="94.9" height="70.9" fill="url(#g4)"/>
</g>
<g filter="url(#pl2)">
<circle cx="369.2" cy="737.6" r="4.66" fill="none" stroke="#4fd44f" stroke-width="3.15"/>
<circle cx="407.8" cy="755.7" r="4.14" fill="none" stroke="#4fd44f" stroke-width="2.8"/>
<circle cx="408.7" cy="767.5" r="2.81" fill="none" stroke="#4fd44f" stroke-width="1.9"/>
<circle cx="362.5" cy="767.5" r="2.66" fill="none" stroke="#4fd44f" stroke-width="1.8"/>
<circle cx="348.6" cy="737.6" r="2.6" fill="#4fd24f"/>
<circle cx="372" cy="767" r="1.2" fill="#4fd24f"/>
<circle cx="379" cy="728" r="1" fill="#4fd24f"/>
<circle cx="338" cy="743" r="1" fill="#4fd24f"/>
</g>
<g filter="url(#pl)">
<circle cx="362.5" cy="794.6" r="9.5" fill="#4ed84e"/>
<circle cx="333.6" cy="794.6" r="4" fill="#4ed84e"/>
<circle cx="403.3" cy="787.4" r="5.6" fill="#4ed84e"/>
<circle cx="410.5" cy="805.5" r="6" fill="#4ed84e"/>
<circle cx="383.4" cy="819" r="6" fill="#4ed84e"/>
<circle cx="351.7" cy="819" r="6" fill="#4ed84e"/>
<circle cx="358" cy="824" r="3" fill="#4ed84e"/>
<circle cx="395.1" cy="832.6" r="6.6" fill="#4ed84e"/>
<circle cx="336.3" cy="833.5" r="5" fill="#4ed84e"/>
<circle cx="375.2" cy="842.6" r="8.6" fill="#4ed84e"/>
<circle cx="329" cy="846.2" r="5.4" fill="#4ed84e"/>
<circle cx="417.8" cy="849.8" r="4.4" fill="#4ed84e"/>
<circle cx="416" cy="820.9" r="3.6" fill="#4ed84e"/>
<circle cx="418" cy="828" r="2.6" fill="#4ed84e"/>
<circle cx="370" cy="786.5" r="3" fill="#4ed84e"/>
</g>
<g filter="url(#b1)" opacity="0.85">
<circle cx="362.5" cy="794.6" r="4.2" fill="#5fe85f"/>
<circle cx="403.3" cy="787.4" r="2" fill="#5fe85f"/>
<circle cx="410.5" cy="805.5" r="2.4" fill="#5fe85f"/>
<circle cx="383.4" cy="819" r="2.6" fill="#5fe85f"/>
<circle cx="351.7" cy="819" r="2.4" fill="#5fe85f"/>
<circle cx="395.1" cy="832.6" r="2.6" fill="#5fe85f"/>
<circle cx="336.3" cy="833.5" r="1.8" fill="#5fe85f"/>
<circle cx="375.2" cy="842.6" r="3.6" fill="#5fe85f"/>
<circle cx="329" cy="846.2" r="2" fill="#5fe85f"/>
</g>
<line x1="383" y1="773.5" x2="416.5" y2="773.5" stroke="#ffffff" stroke-width="1.2"/>
<line x1="383" y1="846.3" x2="416.5" y2="846.3" stroke="#a9c4a9" stroke-width="0.8"/>
<line x1="480.2" y1="773.5" x2="513.7" y2="773.5" stroke="#ffffff" stroke-width="1.2"/>
<line x1="480.2" y1="846.3" x2="513.7" y2="846.3" stroke="#a9c4a9" stroke-width="0.8"/>
<line x1="577.6" y1="773.5" x2="611.1" y2="773.5" stroke="#ffffff" stroke-width="1.2"/>
<line x1="577.6" y1="846.3" x2="611.1" y2="846.3" stroke="#a9c4a9" stroke-width="0.8"/>
</svg>
</body></html>
